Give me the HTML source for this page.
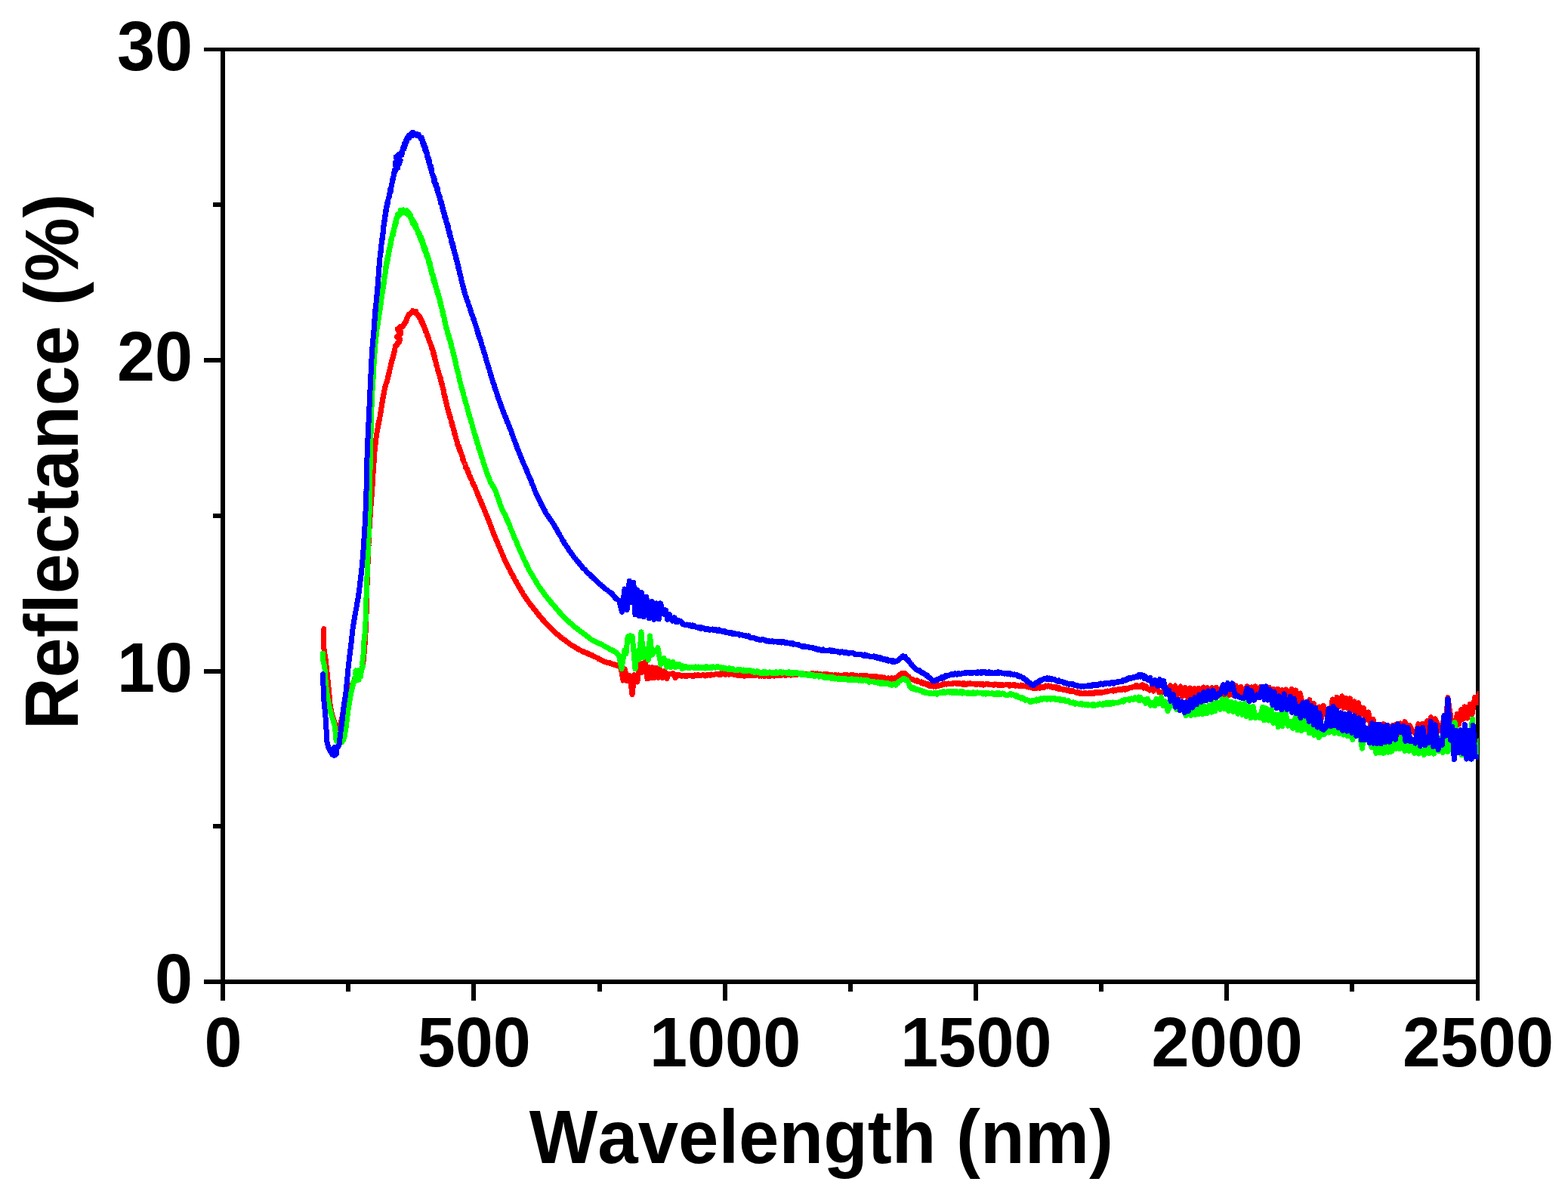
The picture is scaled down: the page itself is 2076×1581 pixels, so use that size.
<!DOCTYPE html>
<html><head><meta charset="utf-8"><title>Reflectance vs Wavelength</title>
<style>html,body{margin:0;padding:0;background:#fff;overflow:hidden}svg{display:block}</style>
</head><body>
<svg width="2076" height="1581" viewBox="0 0 2076 1581"><rect x="0" y="0" width="2076" height="1581" fill="#fff"/><g shape-rendering="crispEdges"><rect x="292" y="63" width="6" height="1262" fill="#000"/><rect x="1954" y="63" width="5" height="1262" fill="#000"/><rect x="270" y="63" width="1689" height="5" fill="#000"/><rect x="270" y="1297" width="1689" height="6" fill="#000"/><rect x="270" y="885.5" width="25" height="6" fill="#000"/><rect x="270" y="474.0" width="25" height="6" fill="#000"/><rect x="282" y="1091.2" width="13" height="6" fill="#000"/><rect x="282" y="679.8" width="13" height="6" fill="#000"/><rect x="282" y="268.2" width="13" height="6" fill="#000"/><rect x="624.3" y="1300" width="6" height="25" fill="#000"/><rect x="956.6" y="1300" width="6" height="25" fill="#000"/><rect x="1288.9" y="1300" width="6" height="25" fill="#000"/><rect x="1621.2" y="1300" width="6" height="25" fill="#000"/><rect x="458.1" y="1300" width="6" height="13" fill="#000"/><rect x="790.5" y="1300" width="6" height="13" fill="#000"/><rect x="1122.8" y="1300" width="6" height="13" fill="#000"/><rect x="1455.0" y="1300" width="6" height="13" fill="#000"/><rect x="1787.3" y="1300" width="6" height="13" fill="#000"/></g><defs><clipPath id="pc"><rect x="298" y="68" width="1659.7" height="1229"/></clipPath></defs><g clip-path="url(#pc)" fill="none" stroke-width="7" stroke-linejoin="round" stroke-linecap="round" shape-rendering="crispEdges"><polyline stroke="#ff0000" points="428.8,832.7 428.7,833.4 428.7,834.5 428.7,834.9 428.7,835.9 428.7,837.1 428.7,837.9 428.7,839.4 428.6,840.7 428.6,842.0 428.6,842.5 428.6,843.8 428.6,844.6 428.6,846.3 428.6,847.3 428.6,847.7 428.5,849.6 428.5,850.6 428.5,851.3 428.5,852.2 428.5,852.8 428.5,853.6 428.5,855.1 428.6,855.6 428.7,856.7 428.8,857.8 428.9,858.6 429.1,860.0 429.2,861.0 429.4,862.4 429.5,863.0 429.7,864.2 429.8,865.0 430.0,866.2 430.1,866.9 430.3,867.6 430.4,869.2 430.6,870.0 430.7,870.8 430.9,871.6 431.0,872.2 431.2,873.2 431.3,874.4 431.5,875.6 431.6,877.0 431.7,877.5 431.8,878.8 431.9,879.3 432.0,880.8 432.1,881.7 432.2,881.9 432.3,883.2 432.4,884.9 432.5,885.6 432.7,887.1 432.8,887.7 432.9,888.4 433.0,890.0 433.1,891.2 433.2,891.8 433.3,892.6 433.4,893.9 433.5,895.4 433.6,896.3 433.7,896.8 433.8,898.0 433.9,898.9 434.0,899.9 434.2,901.7 434.3,902.2 434.4,903.6 434.5,904.5 434.6,905.3 434.7,906.8 434.8,907.2 434.9,908.7 434.9,909.1 435.0,910.3 435.1,910.9 435.2,911.8 435.3,913.7 435.4,914.7 435.5,915.2 435.6,916.6 435.7,916.9 435.8,917.9 435.9,919.2 436.0,919.9 436.1,920.5 436.2,922.5 436.3,922.6 436.4,923.6 436.4,925.1 436.5,925.7 436.6,926.7 436.7,927.5 436.7,928.6 436.8,930.2 436.9,931.0 437.0,932.4 437.1,933.3 437.3,934.5 437.4,936.1 437.6,936.7 437.8,937.8 438.0,939.1 438.2,939.5 438.4,940.6 438.7,942.4 438.9,943.4 439.2,944.0 439.5,945.0 439.7,946.6 440.0,947.8 440.3,948.1 440.6,949.8 440.8,950.7 441.1,951.3 441.3,951.9 441.7,953.0 442.2,954.1 442.6,956.1 443.0,956.4 443.4,957.7 443.8,958.1 444.1,959.5 444.5,960.1 445.0,961.1 445.5,962.3 446.0,964.0 446.5,964.2 447.0,964.7 447.6,964.9 448.2,964.7 448.8,963.6 449.4,962.1 450.0,961.4 450.3,960.0 450.5,959.0 450.8,958.4 451.0,957.6 451.2,956.3 451.5,955.3 451.7,954.4 452.0,953.5 452.2,951.9 452.5,950.9 452.7,950.5 452.9,949.7 453.1,948.5 453.3,947.5 453.5,946.4 453.7,945.0 453.9,943.8 454.1,942.8 454.3,942.6 454.5,941.3 454.7,940.5 454.9,938.5 455.1,938.1 455.3,937.0 455.5,936.2 455.7,934.8 455.9,934.4 456.1,932.4 456.4,931.8 456.6,930.9 456.8,930.0 457.0,928.7 457.2,927.7 457.4,926.7 457.6,925.9 457.9,924.4 458.1,923.8 458.3,923.2 458.5,922.4 458.9,920.5 459.4,919.7 459.8,918.8 460.2,917.6 460.6,916.8 461.1,915.7 461.5,915.1 462.1,914.0 462.7,912.4 463.4,912.0 464.0,911.4 464.5,910.4 465.1,909.2 465.5,907.9 466.0,907.3 466.5,906.1 467.0,905.0 467.4,904.4 467.9,902.7 468.4,902.3 469.0,900.5 469.5,900.2 470.1,899.2 470.7,898.0 471.3,897.5 471.9,896.4 472.5,895.6 473.1,895.0 473.8,893.4 474.5,892.3 475.2,891.7 475.9,891.1 476.5,889.7 477.1,888.7 477.6,888.5 478.2,887.3 478.7,886.0 479.1,885.5 479.5,883.8 479.8,883.2 480.0,881.8 480.2,881.0 480.4,880.4 480.5,879.5 480.7,878.4 480.8,876.9 480.9,876.1 481.1,874.9 481.2,873.7 481.3,873.2 481.4,872.6 481.5,871.6 481.6,870.2 481.7,869.7 481.8,868.0 481.9,867.0 482.0,866.4 482.1,865.2 482.2,864.1 482.3,863.4 482.4,862.5 482.5,861.2 482.6,859.8 482.7,859.6 482.7,858.9 482.8,857.3 482.9,855.8 482.9,854.8 483.0,854.9 483.1,852.7 483.1,852.6 483.2,851.3 483.3,849.9 483.3,849.5 483.4,847.4 483.5,846.5 483.5,845.9 483.6,844.3 483.7,844.5 483.7,842.7 483.8,841.5 483.8,840.4 483.9,840.3 483.9,839.1 484.0,838.4 484.1,837.4 484.1,836.7 484.2,835.9 484.2,834.5 484.3,832.8 484.3,832.1 484.4,830.6 484.4,829.3 484.4,829.0 484.5,828.5 484.5,826.7 484.5,825.9 484.6,825.1 484.6,824.7 484.7,823.4 484.7,822.6 484.7,821.8 484.8,820.3 484.8,819.9 484.8,819.0 484.8,816.7 484.9,817.0 484.9,815.6 484.9,813.6 485.0,813.0 485.0,812.2 485.0,811.7 485.0,810.0 485.1,809.4 485.1,808.9 485.1,807.9 485.1,807.2 485.1,805.5 485.2,804.9 485.2,803.2 485.2,803.1 485.2,802.3 485.2,801.0 485.3,800.1 485.3,798.3 485.3,798.4 485.3,797.4 485.4,796.4 485.4,794.6 485.4,793.9 485.4,792.0 485.5,791.8 485.5,790.6 485.5,788.9 485.6,787.6 485.6,787.2 485.6,786.5 485.6,785.9 485.7,784.4 485.7,782.7 485.7,783.0 485.8,780.8 485.8,781.0 485.8,778.9 485.9,778.2 485.9,777.9 485.9,775.8 486.0,774.7 486.0,774.3 486.0,773.6 486.1,772.7 486.1,771.4 486.1,770.8 486.2,769.0 486.2,768.7 486.3,766.3 486.3,765.5 486.3,765.0 486.4,763.6 486.4,763.3 486.4,762.2 486.5,761.0 486.5,760.6 486.5,759.1 486.6,757.6 486.6,756.7 486.6,756.5 486.7,755.6 486.7,753.4 486.7,753.5 486.8,752.8 486.8,751.0 486.8,750.2 486.9,748.6 486.9,748.2 487.0,747.2 487.0,746.4 487.0,744.4 487.1,745.1 487.1,743.3 487.1,742.2 487.2,741.9 487.2,740.5 487.2,739.3 487.3,738.7 487.3,736.5 487.4,736.3 487.4,735.0 487.5,734.9 487.5,733.8 487.5,731.7 487.6,731.1 487.6,729.5 487.7,729.1 487.7,728.9 487.7,728.0 487.8,726.3 487.8,725.0 487.9,723.7 487.9,723.5 488.0,723.1 488.0,720.5 488.0,720.7 488.1,718.3 488.1,717.5 488.2,716.6 488.2,716.4 488.3,714.7 488.3,713.7 488.4,713.2 488.4,711.1 488.5,711.3 488.5,709.1 488.6,708.8 488.6,707.3 488.7,706.2 488.7,705.8 488.8,704.7 488.8,703.6 488.9,702.7 488.9,701.9 489.0,700.3 489.0,699.4 489.1,699.2 489.1,698.1 489.2,696.8 489.2,696.4 489.3,694.8 489.4,694.2 489.4,691.9 489.5,691.9 489.6,691.0 489.6,690.1 489.7,687.9 489.8,686.8 489.8,687.1 489.9,684.6 490.0,685.2 490.0,684.0 490.1,681.4 490.2,680.7 490.2,680.7 490.3,678.8 490.4,677.5 490.4,678.1 490.5,676.3 490.5,676.2 490.6,673.8 490.7,673.5 490.7,673.3 490.8,670.9 490.9,670.2 491.0,670.1 491.1,669.5 491.2,668.5 491.2,665.6 491.3,665.4 491.4,665.0 491.5,663.4 491.6,662.8 491.7,660.7 491.8,659.5 491.9,658.6 492.0,657.5 492.0,657.8 492.1,656.8 492.2,656.0 492.3,654.0 492.4,653.2 492.4,652.3 492.5,652.8 492.6,652.2 492.6,651.0 492.7,648.1 492.8,647.1 492.8,648.4 492.9,646.3 492.9,646.2 492.9,644.2 493.0,643.7 493.0,642.9 493.1,641.8 493.1,641.2 493.2,638.8 493.2,639.5 493.3,638.7 493.4,636.0 493.4,635.5 493.5,634.9 493.6,632.8 493.7,631.4 493.7,630.5 493.8,630.5 493.8,628.3 493.9,629.6 493.9,628.4 494.0,627.2 494.1,626.5 494.1,624.9 494.2,623.3 494.3,622.7 494.3,621.4 494.4,621.5 494.5,619.9 494.5,617.4 494.6,618.0 494.7,616.4 494.8,615.4 494.8,614.4 494.9,612.2 495.0,612.4 495.1,611.3 495.1,609.8 495.2,608.9 495.3,607.9 495.3,605.9 495.4,605.8 495.5,603.1 495.5,602.9 495.6,602.4 495.7,600.3 495.7,600.4 495.8,600.4 495.9,598.8 496.0,596.4 496.2,597.1 496.3,595.1 496.4,593.1 496.5,593.0 496.6,591.8 496.7,590.7 496.8,589.4 496.9,590.3 497.0,588.4 497.1,587.7 497.2,587.0 497.3,586.7 497.5,582.9 497.6,583.6 497.7,583.0 497.9,580.5 498.0,579.9 498.1,577.8 498.3,577.2 498.4,576.7 498.6,574.8 498.7,574.2 498.8,575.2 499.0,573.1 499.2,571.9 499.3,572.3 499.5,570.0 499.6,570.3 499.8,568.2 500.0,567.7 500.2,564.4 500.4,565.1 500.6,564.6 500.7,561.3 501.0,563.2 501.2,559.7 501.4,559.7 501.6,557.8 501.8,557.9 502.0,557.2 502.2,554.5 502.4,556.3 502.6,553.7 502.8,553.0 503.0,552.3 503.2,550.6 503.4,549.3 503.6,549.5 503.8,548.1 503.9,546.2 504.1,546.5 504.3,544.1 504.4,542.2 504.6,541.9 504.7,540.2 504.9,539.5 505.0,540.4 505.2,538.2 505.3,538.7 505.5,537.2 505.7,533.9 505.8,535.9 506.0,534.7 506.2,530.9 506.3,532.5 506.5,530.0 506.7,529.1 506.9,529.6 507.0,526.3 507.2,526.1 507.4,526.4 507.6,524.7 507.7,522.8 507.9,523.4 508.1,521.9 508.3,520.1 508.6,517.5 508.8,518.1 509.0,516.6 509.2,514.8 509.5,513.3 509.7,513.8 510.0,511.6 510.2,511.6 510.5,511.4 510.8,509.7 511.0,508.1 511.3,508.1 511.6,506.6 511.9,506.8 512.2,505.0 512.4,505.5 512.7,504.4 513.0,502.7 513.2,500.1 513.5,498.8 513.7,500.3 514.0,498.9 514.2,497.5 514.5,495.6 514.7,494.4 514.9,494.7 515.2,493.3 515.4,492.4 515.6,491.6 515.8,491.0 516.1,488.2 516.3,487.4 516.5,488.8 516.8,487.6 517.0,486.5 517.3,482.8 517.5,481.9 517.8,481.6 518.0,481.1 518.3,480.7 518.6,477.9 518.9,478.3 519.2,475.7 519.4,474.7 519.7,475.6 520.0,474.1 520.3,473.4 520.6,471.6 520.8,470.9 521.1,469.1 521.3,468.7 521.6,469.1 521.8,468.6 522.0,465.3 522.3,464.0 522.6,464.9 522.8,463.2 522.9,462.7 523.1,459.9 523.3,459.7 523.6,458.2 524.0,459.0 524.5,456.6 525.2,456.6 525.9,456.7 526.7,453.6 527.5,453.4 528.2,453.1 528.8,452.8 529.3,450.5 529.5,449.6 529.2,447.7 528.1,449.3 526.9,446.1 525.8,445.4 525.5,446.2 525.9,445.3 526.7,445.4 527.7,443.5 528.8,444.4 529.9,441.5 530.7,441.3 531.0,442.0 530.7,439.4 529.9,439.2 528.8,439.7 527.6,438.8 526.8,436.6 526.5,435.4 526.8,435.4 527.4,435.9 528.2,434.1 529.2,432.7 530.2,434.0 531.2,432.9 532.0,433.3 532.8,432.6 533.6,431.8 534.4,429.5 535.1,429.8 535.8,427.4 536.5,426.4 537.0,425.8 537.4,426.6 537.9,425.5 538.3,422.5 538.7,421.8 539.1,420.9 539.5,419.9 540.0,419.2 540.6,418.1 541.3,416.4 542.0,416.6 542.7,416.4 543.4,414.8 544.0,415.1 545.2,413.3 546.3,411.6 547.5,413.3 548.5,413.9 549.4,412.3 550.5,412.1 551.5,414.6 552.1,415.3 552.7,416.1 553.3,418.2 554.0,418.1 554.6,419.6 555.3,418.3 556.0,421.1 556.4,422.7 556.8,421.2 557.2,422.0 557.6,425.0 558.1,426.4 558.5,424.7 558.9,427.4 559.4,426.8 559.8,429.8 560.3,430.5 560.8,430.3 561.2,431.3 561.7,434.1 562.1,434.2 562.4,435.9 562.8,435.6 563.2,436.4 563.6,439.4 564.0,439.4 564.4,439.8 564.8,441.0 565.2,442.6 565.6,443.6 566.0,445.3 566.4,444.7 566.8,447.0 567.2,447.5 567.6,449.1 567.9,450.0 568.3,451.1 568.7,452.2 569.0,453.4 569.3,453.4 569.7,454.0 570.0,455.6 570.3,456.9 570.7,456.6 571.0,457.6 571.3,457.7 571.6,460.6 571.9,462.4 572.2,461.4 572.5,461.7 572.8,462.8 573.1,464.5 573.4,465.1 573.7,468.2 574.0,466.3 574.2,468.0 574.5,468.4 574.7,471.1 575.0,472.5 575.2,471.5 575.4,472.1 575.7,474.4 575.9,475.8 576.1,477.8 576.3,476.0 576.6,477.2 576.8,478.4 577.0,479.5 577.3,480.5 577.5,483.0 577.8,483.6 578.1,483.4 578.4,484.3 578.6,485.5 578.9,486.2 579.2,489.0 579.5,488.6 579.8,490.3 580.1,492.2 580.4,492.1 580.8,492.4 581.1,495.3 581.4,496.4 581.7,495.6 582.0,497.2 582.2,499.5 582.5,499.0 582.8,499.1 583.1,499.5 583.3,503.4 583.6,503.9 583.9,503.6 584.1,505.0 584.4,505.9 584.6,506.2 584.9,509.4 585.1,509.4 585.3,509.0 585.6,509.2 585.8,511.7 586.1,512.4 586.3,514.7 586.5,515.4 586.8,516.1 587.0,515.6 587.2,516.6 587.5,518.1 587.7,518.9 587.9,521.8 588.1,521.6 588.3,523.0 588.6,525.1 588.8,523.8 589.0,525.6 589.2,525.3 589.4,528.3 589.6,526.8 589.9,530.4 590.1,531.5 590.3,532.4 590.6,531.0 590.8,532.6 591.0,535.0 591.3,534.0 591.5,536.2 591.8,537.1 592.1,539.7 592.3,539.5 592.6,541.3 592.9,540.5 593.1,543.1 593.4,542.9 593.7,545.4 593.9,543.8 594.2,547.1 594.5,546.1 594.8,548.2 595.0,549.1 595.3,548.9 595.6,552.0 595.8,551.4 596.1,552.3 596.4,552.6 596.7,554.3 597.0,555.8 597.2,557.6 597.5,557.4 597.8,559.4 598.1,558.6 598.3,560.5 598.6,561.7 598.9,564.3 599.2,564.8 599.5,565.2 599.7,564.2 600.0,566.3 600.3,568.3 600.5,567.8 600.8,569.8 601.0,570.5 601.3,570.0 601.6,574.1 601.8,574.5 602.1,573.6 602.3,575.8 602.6,575.8 602.8,577.1 603.1,578.5 603.4,578.8 603.6,579.9 603.9,581.0 604.2,582.8 604.5,582.6 604.8,583.4 605.1,586.0 605.4,585.7 605.8,588.5 606.1,588.4 606.4,589.8 606.8,589.7 607.1,592.1 607.5,591.0 607.8,592.1 608.2,592.9 608.5,595.6 608.9,596.7 609.3,596.1 609.6,597.8 610.0,600.0 610.3,600.3 610.6,599.8 611.0,601.2 611.3,602.0 611.7,602.9 612.0,604.7 612.3,604.7 612.7,608.0 613.0,607.7 613.3,608.9 613.7,610.2 614.0,611.5 614.4,612.6 614.7,612.5 615.1,613.3 615.5,614.5 615.8,614.5 616.2,616.4 616.6,618.1 616.9,619.8 617.3,620.2 617.7,620.8 618.1,621.6 618.5,621.1 618.9,622.7 619.3,623.7 619.7,625.4 620.1,625.0 620.5,626.6 620.9,627.8 621.3,629.4 621.7,630.4 622.1,630.8 622.5,630.7 622.9,633.0 623.3,634.2 623.7,634.3 624.1,634.7 624.5,635.9 624.8,635.9 625.2,637.9 625.5,639.3 625.9,639.1 626.3,640.3 626.6,641.3 627.0,640.8 627.4,643.2 627.8,643.5 628.3,643.5 628.7,644.3 629.2,645.7 629.7,647.6 630.2,649.1 630.8,649.7 631.1,651.5 631.4,651.2 631.7,652.1 632.1,652.2 632.4,654.7 632.7,653.9 633.1,656.2 633.4,656.4 633.8,657.3 634.2,658.2 634.5,658.5 634.9,660.6 635.3,661.7 635.7,662.3 636.1,662.9 636.5,663.0 636.9,665.2 637.3,665.2 637.7,667.3 638.1,667.1 638.5,668.7 638.9,670.1 639.3,670.1 639.7,671.7 640.1,671.9 640.6,672.8 641.0,674.1 641.4,676.3 641.8,677.2 642.2,677.8 642.6,678.2 643.0,679.8 643.4,680.8 643.7,681.3 644.1,682.5 644.5,683.7 644.9,683.6 645.3,684.8 645.6,686.1 646.0,686.6 646.4,687.9 646.8,689.1 647.2,689.5 647.5,691.0 647.9,691.6 648.3,692.9 648.7,693.6 649.0,694.9 649.4,695.1 649.8,696.9 650.2,697.2 650.5,699.1 650.9,699.6 651.3,700.4 651.6,701.3 652.0,702.5 652.4,703.6 652.8,704.6 653.2,705.6 653.5,706.2 653.9,707.7 654.3,708.5 654.7,709.5 655.1,709.9 655.4,710.9 655.8,712.0 656.2,713.4 656.6,713.9 657.0,714.8 657.4,715.7 657.8,717.2 658.2,717.4 658.6,718.0 659.0,719.7 659.4,720.9 659.7,721.6 660.1,722.4 660.5,723.5 660.9,723.9 661.3,725.1 661.7,725.5 662.1,726.4 662.5,727.7 662.9,728.7 663.2,729.5 663.6,730.1 664.0,731.7 664.4,732.5 664.8,733.1 665.2,734.1 665.6,735.1 666.0,735.8 666.5,736.6 666.9,738.5 667.3,739.4 667.7,740.0 668.1,741.2 668.5,741.6 669.0,743.0 669.4,743.2 669.8,744.7 670.3,745.5 670.7,746.8 671.1,746.8 671.6,748.5 672.0,748.6 672.5,750.0 673.0,751.4 673.4,751.3 673.9,752.5 674.4,753.5 674.9,754.4 675.4,755.1 675.9,757.0 676.4,757.9 676.9,758.4 677.4,759.3 677.9,760.6 678.5,760.9 679.0,761.9 679.5,763.9 680.1,764.2 680.6,765.4 681.1,766.8 681.7,767.8 682.2,768.2 682.7,768.9 683.3,769.9 683.8,771.6 684.3,772.5 684.8,772.6 685.3,774.2 685.8,774.6 686.3,775.6 686.8,776.1 687.3,777.7 687.8,778.7 688.3,778.6 688.7,779.9 689.2,780.1 689.6,781.6 690.0,781.4 690.4,782.2 690.8,783.5 691.6,784.4 692.3,786.2 692.9,787.2 693.5,788.0 694.1,788.3 694.6,789.7 695.1,790.8 695.6,791.0 696.1,791.3 696.5,792.1 697.0,792.9 697.5,794.0 698.0,794.1 698.5,794.8 699.1,795.6 699.7,796.9 700.3,797.9 701.0,798.4 701.5,799.4 702.1,800.3 702.6,800.8 703.2,801.1 703.8,802.0 704.4,803.4 705.0,803.9 705.6,804.3 706.2,805.5 706.8,805.8 707.5,807.5 708.1,807.8 708.8,808.7 709.4,809.5 710.1,809.9 710.8,811.3 711.4,811.8 712.1,812.5 712.7,813.9 713.4,814.0 714.1,815.0 714.7,816.3 715.4,816.5 716.1,817.3 716.7,818.3 717.4,818.8 718.1,820.3 718.7,821.1 719.4,820.9 720.1,822.1 720.8,823.2 721.5,823.6 722.2,824.9 722.9,825.2 723.5,825.6 724.2,826.7 724.9,827.6 725.6,828.0 726.3,829.0 727.0,829.9 727.7,830.3 728.4,831.0 729.1,832.1 729.8,832.6 730.5,833.1 731.2,834.2 731.9,834.2 732.6,835.4 733.3,835.5 734.1,836.6 734.9,837.0 735.7,837.9 736.5,838.9 737.3,839.7 738.1,840.4 738.9,840.5 739.7,841.4 740.5,841.8 741.2,842.8 742.0,843.4 742.8,843.6 743.6,844.8 744.4,845.5 745.2,846.0 746.0,846.9 746.8,846.8 747.6,847.4 748.4,847.9 749.2,848.9 750.0,849.4 750.9,850.1 751.8,850.6 752.6,851.7 753.5,851.6 754.4,853.0 755.3,853.3 756.2,853.9 757.0,854.7 757.9,854.8 758.8,855.3 759.7,856.0 760.6,856.3 761.4,857.1 762.3,857.9 763.2,858.3 764.1,858.6 764.9,859.4 765.8,859.5 766.7,860.6 767.6,860.5 768.5,861.0 769.5,861.4 770.4,862.3 771.3,862.8 772.2,863.2 773.2,862.9 774.1,863.6 775.0,863.9 775.9,864.2 776.8,865.2 777.8,864.8 778.7,865.5 779.6,866.1 780.5,866.7 781.5,866.4 782.4,867.0 783.3,867.7 784.2,867.6 785.2,868.2 786.1,869.2 787.0,869.0 787.9,869.7 788.9,870.1 789.8,870.7 790.7,871.0 791.6,871.4 792.6,872.7 793.5,873.0 794.4,873.4 795.4,873.5 796.3,874.0 797.2,874.6 798.1,874.8 799.1,875.4 800.0,876.1 801.0,876.1 802.0,876.4 803.1,877.4 804.2,877.4 805.3,877.1 806.4,877.8 807.5,878.4 808.6,878.0 809.7,878.6 810.7,879.3 811.7,879.8 812.7,879.7 813.6,880.4 814.5,880.0 815.3,880.2 816.0,881.1 816.7,880.6 818.4,881.8 819.3,881.4 819.9,881.9 820.4,882.1 821.0,883.6 821.5,883.2 821.8,884.2 822.1,885.2 822.5,887.2 825.0,901.0 827.4,885.9 830.5,901.8 833.8,894.5 837.0,919.6 840.0,893.7 843.9,903.0 846.9,876.9 850.0,890.3 853.9,876.3 857.1,899.0 860.2,883.7 862.1,898.0 864.0,883.7 866.1,897.8 869.0,884.1 871.8,897.2 873.9,886.0 876.8,897.6 879.9,888.7 883.1,898.4 885.2,892.1 888.2,892.3 891.2,891.5 894.0,897.5 894.9,893.9 895.8,896.0 896.7,893.4 897.7,895.0 898.8,894.9 900.0,894.0 900.9,895.0 901.8,894.8 902.7,895.3 903.7,894.7 904.7,894.4 905.8,895.0 906.8,895.2 907.9,894.5 909.0,895.5 910.2,894.7 911.3,894.3 912.4,894.8 913.5,894.9 914.6,894.4 915.6,895.2 916.7,895.4 917.7,895.1 918.8,895.3 919.8,893.9 920.9,894.6 921.9,894.5 922.9,893.9 924.0,894.5 925.0,893.8 926.0,894.6 927.1,894.8 928.1,894.5 929.1,894.1 930.2,893.9 931.2,893.4 932.3,894.0 933.3,895.0 934.3,894.2 935.4,893.5 936.4,894.2 937.5,893.2 938.5,893.6 939.6,893.8 940.6,894.3 941.6,893.0 942.7,893.3 943.7,893.9 944.8,893.5 945.8,893.1 946.9,892.9 947.9,892.4 949.0,892.4 950.0,892.1 951.0,893.1 952.1,893.2 953.1,892.2 954.2,893.2 955.2,891.5 956.3,891.7 957.3,892.4 958.4,892.1 959.4,892.2 960.4,893.5 961.5,891.9 962.5,892.0 963.6,892.1 964.6,893.1 965.7,892.2 966.7,891.8 967.7,892.9 968.8,892.7 969.8,892.5 970.9,893.1 971.9,893.5 972.9,893.4 974.0,893.6 975.0,893.6 976.0,894.3 977.1,894.6 978.1,893.5 979.1,893.6 980.2,894.8 981.2,893.7 982.3,894.6 983.3,894.6 984.3,894.6 985.4,895.2 986.4,895.0 987.5,893.7 988.5,894.6 989.6,894.4 990.6,894.5 991.6,894.2 992.7,894.0 993.7,894.9 994.8,894.5 995.8,893.9 996.9,894.0 997.9,894.1 999.0,893.8 1000.0,894.5 1001.0,893.8 1002.1,893.7 1003.1,893.7 1004.2,893.8 1005.2,895.0 1006.3,893.8 1007.3,894.5 1008.4,895.2 1009.4,894.6 1010.5,894.0 1011.5,895.4 1012.6,895.5 1013.6,893.8 1014.6,894.2 1015.7,894.7 1016.7,895.3 1017.7,894.5 1018.8,895.1 1019.8,894.1 1020.8,895.0 1021.8,894.2 1022.8,894.2 1023.8,895.0 1024.8,895.1 1025.8,895.0 1026.9,894.5 1027.9,894.1 1028.9,894.6 1029.9,894.4 1030.9,894.8 1032.0,894.7 1033.0,893.3 1034.0,893.7 1034.9,894.2 1035.9,893.3 1036.8,893.1 1037.8,892.7 1038.7,893.8 1039.6,894.5 1040.6,894.5 1041.5,892.7 1042.5,893.8 1043.5,893.2 1044.5,893.5 1045.6,893.0 1046.6,894.0 1047.7,894.1 1048.8,892.1 1050.0,893.4 1050.9,892.2 1051.8,892.0 1052.7,892.5 1053.6,893.3 1054.5,893.8 1055.4,892.0 1056.3,892.4 1057.2,891.8 1058.2,892.8 1059.2,892.6 1060.1,892.3 1061.1,892.2 1062.1,893.1 1063.2,893.2 1064.2,892.1 1065.3,892.3 1066.3,892.7 1067.4,893.0 1068.6,893.4 1069.7,892.2 1070.9,892.9 1072.1,892.6 1073.3,893.1 1074.2,891.8 1075.1,891.9 1076.0,891.8 1076.9,893.5 1077.8,892.1 1078.8,892.7 1079.7,892.0 1080.7,892.4 1081.7,891.9 1082.7,893.0 1083.7,892.2 1084.7,893.2 1085.7,892.6 1086.8,892.6 1087.8,893.1 1088.9,893.0 1089.9,892.8 1091.0,892.5 1092.0,892.6 1093.1,894.3 1094.1,893.2 1095.2,892.8 1096.3,893.0 1097.3,893.7 1098.4,894.8 1099.4,893.3 1100.5,894.7 1101.5,893.9 1102.6,893.9 1103.6,894.7 1104.7,893.9 1105.7,893.3 1106.7,894.3 1107.7,894.6 1108.7,894.5 1109.8,893.9 1110.8,895.2 1111.9,895.1 1112.9,895.4 1114.0,894.3 1115.1,895.1 1116.1,894.9 1117.2,893.8 1118.3,893.6 1119.4,893.9 1120.5,893.8 1121.5,893.7 1122.6,894.3 1123.7,895.1 1124.7,894.2 1125.8,894.7 1126.8,893.7 1127.8,894.1 1128.9,895.6 1129.9,893.7 1130.9,894.8 1131.9,895.4 1132.9,895.4 1133.8,895.3 1134.8,894.6 1135.7,895.5 1136.6,895.5 1137.5,895.4 1138.3,895.9 1139.2,894.2 1140.0,895.9 1141.3,894.9 1142.6,895.5 1143.8,894.7 1144.9,896.1 1146.1,894.4 1147.1,895.5 1148.2,894.9 1149.2,895.3 1150.2,895.3 1151.1,896.0 1152.1,896.4 1153.0,895.6 1153.9,896.2 1154.8,895.7 1155.7,895.6 1156.5,897.0 1157.4,895.9 1158.3,895.5 1159.1,896.1 1160.0,897.0 1161.2,896.0 1162.3,897.2 1163.4,897.0 1164.5,897.4 1165.5,896.6 1166.6,896.6 1167.6,896.8 1168.6,897.4 1169.5,897.7 1170.5,897.0 1171.4,898.1 1172.3,898.1 1173.2,898.0 1174.1,898.5 1175.0,899.4 1176.2,898.0 1177.3,899.4 1178.5,898.3 1179.5,899.2 1180.6,897.9 1181.6,899.6 1182.6,898.4 1183.5,899.4 1184.4,897.8 1185.2,898.0 1186.0,898.4 1187.2,896.9 1188.1,896.4 1188.8,896.5 1189.5,896.2 1190.2,894.3 1191.0,893.4 1191.9,893.2 1192.9,893.8 1193.9,891.6 1194.9,892.2 1195.8,891.4 1196.7,891.8 1197.8,891.1 1198.8,892.5 1199.9,893.8 1201.0,894.7 1201.6,894.9 1202.2,895.3 1202.8,896.2 1203.4,896.1 1204.2,898.3 1205.3,898.8 1206.7,899.1 1207.4,899.8 1208.2,899.7 1209.0,899.9 1209.9,899.9 1210.9,901.0 1211.9,901.3 1212.9,901.5 1214.0,900.8 1215.1,902.4 1216.1,902.3 1217.2,902.9 1218.3,903.2 1219.4,904.2 1220.4,903.0 1221.4,903.9 1222.4,905.2 1223.3,905.0 1224.4,904.5 1225.5,905.7 1226.5,906.6 1227.4,905.8 1228.4,907.1 1229.3,906.0 1230.3,908.1 1231.2,907.4 1232.2,907.1 1233.2,908.6 1234.3,908.4 1235.5,909.1 1236.7,909.0 1237.5,908.9 1238.4,908.3 1239.2,909.2 1240.1,907.2 1240.9,908.7 1241.8,908.2 1242.7,907.1 1243.6,908.0 1244.5,907.1 1245.5,907.1 1246.4,907.5 1247.4,906.0 1248.5,905.9 1249.5,906.4 1250.6,905.1 1251.7,905.9 1252.9,906.2 1254.1,905.5 1255.4,904.9 1256.7,905.9 1257.5,906.0 1258.4,905.8 1259.2,905.3 1260.1,906.0 1261.0,905.8 1261.9,904.5 1262.9,904.9 1263.8,904.4 1264.8,904.2 1265.8,904.9 1266.8,905.9 1267.8,905.9 1268.9,904.5 1269.9,904.6 1270.9,905.0 1272.0,906.0 1273.0,905.6 1274.1,906.2 1275.2,904.5 1276.3,906.4 1277.3,904.9 1278.4,905.7 1279.5,906.3 1280.6,906.0 1281.6,905.0 1282.7,905.9 1283.8,905.5 1284.8,904.7 1285.9,905.4 1286.9,905.4 1288.0,906.0 1289.0,905.3 1290.0,906.0 1291.0,906.2 1292.0,905.2 1293.0,905.1 1294.0,906.3 1295.0,905.8 1296.1,905.2 1297.1,905.2 1298.1,906.9 1299.1,906.2 1300.1,905.7 1301.1,905.4 1302.1,907.1 1303.1,906.5 1304.1,906.6 1305.1,905.9 1306.1,905.8 1307.1,906.0 1308.2,905.5 1309.2,906.5 1310.2,906.1 1311.2,906.9 1312.2,906.2 1313.2,906.3 1314.2,906.4 1315.2,907.3 1316.2,906.1 1317.2,906.9 1318.2,906.0 1319.3,906.7 1320.3,906.2 1321.3,907.4 1322.3,906.2 1323.3,907.4 1324.3,907.1 1325.4,906.7 1326.4,907.7 1327.5,906.6 1328.6,907.4 1329.7,907.1 1330.8,906.9 1331.9,906.1 1333.0,906.9 1334.2,906.7 1335.3,907.0 1336.4,908.1 1337.6,906.8 1338.7,907.7 1339.8,907.7 1340.9,906.9 1342.0,907.2 1343.1,906.7 1344.2,908.3 1345.2,907.1 1346.3,907.5 1347.3,907.4 1348.3,908.4 1349.3,908.5 1350.2,908.0 1351.2,908.0 1352.0,907.1 1352.9,908.8 1353.7,907.2 1354.5,907.8 1355.3,907.9 1356.0,908.7 1356.7,908.6 1358.6,908.2 1360.1,909.6 1361.3,910.0 1362.2,908.4 1363.0,910.0 1363.6,909.9 1364.2,910.0 1364.9,910.4 1365.7,910.3 1366.7,911.1 1367.6,911.1 1368.6,911.8 1369.6,911.8 1370.7,911.8 1371.8,910.5 1372.9,911.3 1374.0,910.9 1375.1,910.9 1376.2,911.4 1377.2,909.4 1378.2,910.1 1379.1,909.9 1380.0,910.3 1381.2,909.3 1382.0,910.5 1382.7,908.7 1383.4,908.7 1384.2,908.0 1385.2,908.3 1386.5,909.0 1388.3,907.9 1389.0,908.1 1389.7,909.2 1390.5,909.3 1391.4,909.7 1392.2,908.9 1393.1,910.2 1394.1,910.2 1395.1,910.6 1396.1,909.5 1397.1,910.4 1398.1,909.8 1399.2,911.7 1400.3,912.1 1401.4,912.3 1402.5,910.8 1403.6,911.7 1404.7,912.4 1405.8,912.6 1406.9,912.1 1408.0,913.7 1409.1,912.9 1410.2,913.6 1411.3,913.0 1412.3,914.1 1413.3,913.5 1414.3,913.6 1415.3,914.6 1416.3,914.4 1417.3,915.6 1418.3,914.7 1419.3,915.3 1420.3,914.7 1421.3,915.3 1422.3,916.0 1423.3,916.4 1424.3,916.4 1425.3,917.4 1426.3,916.1 1427.3,917.7 1428.3,916.5 1429.3,918.3 1430.3,917.6 1431.3,917.5 1432.3,918.0 1433.3,918.7 1434.3,919.0 1435.3,918.0 1436.3,917.2 1437.3,917.6 1438.3,918.9 1439.3,918.8 1440.3,918.8 1441.3,917.6 1442.3,918.3 1443.3,917.3 1444.3,917.4 1445.3,917.7 1446.3,918.9 1447.3,918.2 1448.3,918.5 1449.3,916.8 1450.3,917.4 1451.3,916.6 1452.3,916.8 1453.3,916.4 1454.3,917.9 1455.3,916.5 1456.3,916.7 1457.3,916.9 1458.3,917.2 1459.3,917.2 1460.3,916.3 1461.3,916.0 1462.3,916.7 1463.3,915.6 1464.3,915.3 1465.3,916.0 1466.3,915.0 1467.3,915.1 1468.4,915.1 1469.4,915.0 1470.4,914.7 1471.4,914.7 1472.4,914.6 1473.5,913.7 1474.5,915.1 1475.5,913.4 1476.5,914.2 1477.5,914.2 1478.5,913.7 1479.5,913.2 1480.5,912.8 1481.5,913.3 1482.5,913.0 1483.5,913.2 1484.5,912.5 1485.5,913.4 1486.4,912.8 1487.4,911.7 1488.3,912.3 1489.4,913.3 1490.4,911.1 1491.4,912.1 1492.5,912.6 1493.5,911.2 1494.5,911.4 1495.5,910.7 1496.5,910.3 1497.5,910.6 1498.5,910.3 1499.5,909.5 1500.4,909.7 1501.4,909.5 1502.4,909.8 1503.3,907.8 1504.3,907.7 1505.2,907.9 1506.2,907.8 1507.2,909.4 1508.1,908.1 1509.1,909.7 1510.0,907.9 1511.0,907.4 1512.1,909.2 1513.1,906.7 1514.2,911.1 1515.2,910.7 1516.2,908.3 1517.3,908.5 1518.3,911.6 1519.3,911.8 1522.3,914.1 1525.3,909.0 1527.2,915.1 1531.1,909.5 1534.6,916.8 1536.9,916.9 1540.2,916.8 1542.2,908.0 1545.9,916.5 1549.4,907.7 1552.3,917.8 1556.0,908.0 1558.5,920.6 1563.0,909.0 1565.4,922.2 1569.2,910.1 1572.3,923.3 1575.6,910.9 1578.9,923.5 1581.8,911.6 1584.6,923.0 1587.3,911.4 1590.2,923.1 1593.2,910.0 1596.4,922.7 1598.8,910.7 1601.7,923.8 1604.4,910.7 1607.3,923.8 1610.3,910.1 1614.4,921.3 1617.5,910.4 1620.7,921.9 1623.8,907.9 1627.0,920.5 1630.0,909.3 1633.0,920.5 1636.0,907.7 1639.0,921.1 1643.0,909.1 1647.0,921.2 1651.0,908.9 1654.0,921.6 1657.0,909.8 1659.0,922.5 1662.0,908.7 1665.2,923.1 1668.5,909.7 1671.9,923.1 1675.2,915.2 1677.3,924.1 1680.5,910.2 1683.4,924.6 1686.2,912.4 1688.6,924.5 1691.8,912.4 1695.3,917.0 1697.5,913.5 1700.9,927.9 1702.8,913.0 1706.8,925.5 1709.9,912.4 1712.9,925.8 1715.7,914.0 1718.5,929.2 1721.3,918.0 1725.0,933.9 1727.4,935.6 1730.6,938.1 1733.8,926.7 1736.0,943.0 1739.3,931.6 1742.8,947.6 1746.2,936.0 1749.7,951.1 1752.3,934.6 1754.9,946.0 1758.4,942.7 1761.8,941.2 1764.3,926.0 1766.8,937.2 1770.0,923.1 1773.6,935.6 1776.7,921.9 1778.9,937.5 1782.2,924.3 1784.4,937.8 1787.5,924.8 1790.2,941.0 1793.1,928.9 1795.9,945.5 1798.6,930.8 1801.1,947.0 1805.1,937.1 1808.4,953.1 1811.8,943.0 1814.8,961.6 1818.1,952.2 1821.0,972.2 1824.0,962.1 1828.1,971.7 1831.9,958.6 1835.3,971.2 1838.4,961.1 1842.5,976.1 1844.7,960.4 1846.9,973.2 1849.0,958.9 1851.1,973.0 1854.2,957.8 1858.0,970.6 1860.0,955.6 1863.1,968.1 1866.2,960.2 1870.0,968.3 1872.8,970.6 1875.2,971.3 1877.9,958.7 1880.8,972.0 1883.8,958.1 1886.4,970.6 1889.7,954.8 1892.2,965.6 1894.6,949.6 1897.8,957.9 1900.2,951.8 1903.0,957.3 1905.4,967.5 1909.0,966.8 1911.7,949.8 1914.8,950.7 1916.9,923.8 1921.0,951.4 1923.8,956.9 1926.6,962.7 1929.2,945.6 1931.7,959.1 1934.5,939.6 1937.0,952.5 1939.2,935.9 1942.6,951.0 1946.2,932.4 1948.9,946.0 1952.7,923.3 1955.6,930.8 1958.2,918.3"/><polyline stroke="#00ff00" points="427.5,865.2 427.5,865.0 427.5,865.7 427.6,867.6 427.6,867.9 427.6,869.0 427.7,870.7 427.7,871.6 427.8,873.3 427.9,873.8 428.0,875.4 428.2,875.9 428.4,877.1 428.6,878.3 428.8,878.9 429.1,880.1 429.3,880.9 429.5,881.4 429.8,883.7 429.8,884.2 429.9,884.8 430.0,885.6 430.1,887.1 430.1,887.9 430.2,889.2 430.3,890.1 430.3,891.4 430.4,892.1 430.5,893.3 430.6,894.4 430.6,895.2 430.7,897.0 430.8,897.5 430.9,899.1 431.0,900.4 431.1,901.1 431.2,901.6 431.3,903.2 431.4,904.1 431.5,904.6 431.6,905.5 431.7,907.1 431.8,907.6 431.9,909.6 432.0,910.2 432.2,911.3 432.3,912.3 432.4,913.5 432.5,914.8 432.6,915.2 432.7,916.3 432.9,917.4 433.0,918.1 433.1,919.2 433.2,920.0 433.4,921.2 433.5,922.6 433.7,923.5 433.9,924.2 434.1,926.0 434.2,926.4 434.4,927.4 434.6,928.3 434.8,929.7 434.9,930.6 435.1,931.1 435.3,932.0 435.5,932.6 435.7,934.4 435.9,934.8 436.2,936.2 436.4,937.0 436.6,938.0 436.8,939.0 437.1,939.9 437.3,940.7 437.6,942.2 437.8,943.4 438.1,944.2 438.3,944.7 438.6,946.3 438.9,946.7 439.3,948.1 439.6,949.6 440.0,950.7 440.3,951.2 440.6,952.5 440.9,953.2 441.2,954.1 441.5,955.1 441.8,956.6 442.1,957.4 442.4,958.1 442.6,959.3 442.8,960.2 443.0,960.8 443.2,962.2 443.4,963.3 443.5,964.1 443.7,965.4 443.8,965.5 443.8,967.0 443.9,968.2 444.0,969.0 444.1,969.8 444.1,971.3 444.2,971.9 444.3,972.9 444.3,973.8 444.4,975.8 444.5,976.2 444.5,976.9 444.6,977.9 444.8,978.8 445.2,980.5 445.6,980.8 446.2,981.7 446.8,982.1 447.8,983.1 448.9,983.2 450.0,983.3 451.0,983.5 452.0,983.3 453.0,982.3 453.5,980.9 454.0,980.5 454.5,980.0 455.0,978.0 455.5,976.7 455.7,976.2 455.9,975.3 456.1,974.8 456.3,973.8 456.5,972.5 456.7,971.3 456.9,970.2 457.1,969.1 457.3,967.8 457.5,967.3 457.6,965.7 457.8,965.4 458.0,964.2 458.1,962.6 458.2,962.0 458.4,961.1 458.5,959.6 458.6,959.0 458.8,957.5 458.9,957.2 459.0,955.5 459.1,955.1 459.3,954.4 459.4,953.3 459.5,951.7 459.6,951.0 459.8,949.6 459.9,948.8 460.0,948.3 460.1,947.2 460.2,945.5 460.3,944.8 460.5,944.1 460.6,942.7 460.7,942.3 460.9,941.4 461.0,940.1 461.1,938.9 461.3,938.3 461.5,937.0 461.6,935.7 461.8,934.7 462.0,933.6 462.1,933.3 462.3,931.9 462.5,931.1 462.7,930.3 462.8,929.4 463.0,927.7 463.2,926.9 463.4,926.3 463.6,925.1 463.7,923.7 463.9,922.9 464.1,921.4 464.3,920.4 464.5,919.3 464.6,918.7 464.8,917.6 465.0,917.0 465.2,916.3 465.5,914.4 465.7,913.8 465.9,913.1 466.1,911.9 466.4,910.9 466.6,910.2 466.8,908.5 467.0,908.3 467.2,907.0 467.3,906.0 467.4,904.9 467.7,903.2 468.0,902.3 468.5,901.7 469.4,901.4 470.7,901.4 472.2,901.2 473.5,900.5 474.5,900.5 475.0,900.2 474.5,899.3 473.2,899.3 471.6,898.6 470.4,897.8 470.0,897.4 470.5,897.0 471.4,896.6 472.7,896.0 474.2,895.8 475.6,895.5 476.8,895.1 477.7,895.7 478.0,894.8 477.7,894.2 476.9,894.1 475.6,893.5 474.2,893.5 472.9,893.0 471.6,892.4 470.8,892.3 470.5,891.9 470.9,891.5 471.8,891.6 473.0,890.8 474.5,890.7 476.0,890.7 477.2,890.5 478.1,889.6 478.5,889.0 478.1,889.7 477.0,889.2 475.5,888.8 473.9,888.6 472.4,888.6 471.4,888.5 471.0,888.1 471.3,887.9 472.1,888.6 473.3,888.3 474.6,887.4 476.1,887.5 477.4,887.5 478.5,886.7 479.3,885.6 479.7,885.1 479.9,884.3 480.0,883.9 480.1,882.6 480.0,881.4 480.0,880.4 479.9,878.7 479.9,878.2 479.9,877.3 479.9,876.2 480.0,874.9 480.1,873.9 480.2,872.7 480.4,871.9 480.5,871.1 480.6,870.5 480.8,869.8 480.9,868.0 481.0,867.0 481.1,866.4 481.1,865.5 481.1,863.9 481.2,864.1 481.2,862.7 481.3,861.3 481.3,860.2 481.3,859.8 481.4,859.0 481.4,857.2 481.5,856.2 481.5,855.3 481.5,853.7 481.6,853.0 481.7,852.6 481.7,851.1 481.8,850.4 481.9,848.6 482.0,848.4 482.1,847.3 482.2,845.4 482.3,844.8 482.5,844.0 482.6,842.8 482.7,841.8 482.8,840.2 483.0,839.6 483.1,838.3 483.2,838.0 483.3,836.2 483.4,836.2 483.5,834.5 483.6,832.8 483.7,832.1 483.7,830.6 483.8,830.6 483.8,828.3 483.8,828.3 483.9,826.7 483.9,826.5 483.9,824.3 483.9,824.3 484.0,823.3 484.0,821.4 484.0,820.2 484.0,819.6 484.0,819.1 484.1,817.3 484.1,815.8 484.1,815.5 484.2,815.2 484.2,812.9 484.2,813.4 484.3,811.5 484.3,809.8 484.4,808.6 484.4,808.1 484.4,807.3 484.5,805.6 484.5,804.4 484.6,804.2 484.6,802.6 484.6,802.0 484.7,800.9 484.7,800.4 484.7,799.1 484.8,797.5 484.8,796.5 484.8,796.9 484.8,794.4 484.9,793.7 484.9,792.7 484.9,793.3 484.9,791.8 485.0,791.6 485.0,790.0 485.0,788.3 485.1,787.3 485.1,786.7 485.1,784.2 485.2,783.9 485.2,782.3 485.3,780.8 485.3,780.6 485.3,780.2 485.4,778.4 485.4,779.1 485.4,778.2 485.5,776.4 485.5,776.3 485.5,774.8 485.6,773.5 485.6,771.7 485.7,772.4 485.7,771.3 485.7,769.2 485.8,768.0 485.8,766.2 485.9,766.3 485.9,765.8 486.0,763.6 486.0,762.3 486.0,762.0 486.1,761.3 486.1,758.8 486.2,757.9 486.2,757.7 486.3,755.2 486.3,755.9 486.3,753.7 486.4,753.9 486.4,751.9 486.5,750.2 486.5,748.9 486.5,748.1 486.6,747.4 486.6,747.6 486.7,746.7 486.7,745.3 486.7,743.5 486.8,743.4 486.8,742.6 486.9,740.7 486.9,739.0 486.9,738.9 487.0,737.3 487.0,736.3 487.1,735.8 487.1,734.0 487.1,735.1 487.2,732.5 487.2,733.1 487.3,731.7 487.3,728.8 487.3,730.1 487.4,728.8 487.4,727.1 487.5,727.0 487.5,725.0 487.5,722.8 487.6,722.1 487.6,721.4 487.6,721.8 487.7,720.7 487.7,717.8 487.8,717.4 487.8,715.7 487.8,715.0 487.9,714.3 487.9,713.5 487.9,711.8 488.0,712.1 488.0,710.0 488.0,710.7 488.1,708.6 488.1,707.4 488.2,707.3 488.2,705.1 488.2,703.8 488.3,702.4 488.3,701.8 488.3,700.6 488.4,700.9 488.4,698.8 488.4,698.7 488.5,696.5 488.5,694.8 488.5,694.4 488.6,693.6 488.6,694.1 488.6,691.0 488.7,690.0 488.7,688.8 488.7,688.1 488.8,689.1 488.8,688.0 488.8,685.0 488.9,683.5 488.9,683.8 488.9,683.1 488.9,680.8 489.0,680.7 489.0,680.8 489.0,677.5 489.1,678.5 489.1,677.4 489.1,676.7 489.1,674.8 489.2,673.8 489.2,673.0 489.2,671.0 489.2,671.2 489.2,669.5 489.3,668.8 489.3,667.1 489.3,666.6 489.3,665.4 489.3,666.0 489.3,664.2 489.4,664.2 489.4,663.1 489.4,661.4 489.4,660.1 489.4,660.5 489.4,659.8 489.5,658.8 489.5,657.2 489.5,656.3 489.5,653.5 489.5,653.2 489.6,653.5 489.6,650.9 489.6,648.8 489.6,649.0 489.6,649.4 489.6,646.3 489.6,645.6 489.7,645.9 489.7,646.2 489.7,643.8 489.7,642.5 489.7,643.3 489.7,640.3 489.7,640.0 489.7,640.1 489.7,639.9 489.8,639.0 489.8,636.5 489.8,635.4 489.8,634.7 489.8,633.0 489.8,632.5 489.8,633.1 489.8,632.7 489.8,629.6 489.8,628.0 489.9,629.1 489.9,628.7 489.9,627.2 489.9,625.0 489.9,625.0 489.9,624.0 489.9,622.9 489.9,621.1 490.0,621.6 490.0,619.9 490.0,617.1 490.0,616.7 490.0,614.5 490.0,614.3 490.0,614.6 490.1,612.5 490.1,611.5 490.1,611.2 490.1,607.9 490.1,607.6 490.2,606.9 490.2,605.8 490.2,605.2 490.2,604.9 490.2,603.3 490.3,601.3 490.3,600.6 490.3,599.2 490.3,599.8 490.4,597.6 490.4,596.7 490.4,595.1 490.4,594.2 490.4,594.4 490.5,592.2 490.5,592.9 490.5,591.3 490.5,591.1 490.6,589.2 490.6,587.8 490.6,586.1 490.6,583.9 490.7,585.0 490.7,584.2 490.7,583.0 490.8,582.1 490.8,578.7 490.8,579.7 490.8,577.3 490.9,576.6 490.9,577.1 490.9,574.4 491.0,573.6 491.0,571.1 491.0,570.4 491.0,569.4 491.1,568.3 491.1,568.3 491.1,565.6 491.2,564.6 491.2,563.5 491.2,564.6 491.3,564.3 491.3,562.5 491.3,560.6 491.4,558.2 491.4,559.3 491.4,556.1 491.4,554.8 491.5,555.2 491.5,555.4 491.5,552.4 491.6,553.3 491.6,550.5 491.6,551.6 491.7,549.8 491.7,549.3 491.7,548.7 491.8,547.1 491.8,544.0 491.8,544.2 491.8,543.3 491.9,543.0 491.9,540.4 491.9,540.7 492.0,538.8 492.0,537.5 492.0,537.6 492.1,538.0 492.1,536.3 492.1,534.8 492.1,533.6 492.2,533.3 492.2,532.6 492.3,530.7 492.3,529.4 492.4,527.7 492.4,526.7 492.5,526.8 492.5,525.4 492.6,524.2 492.6,524.2 492.7,522.2 492.7,519.1 492.8,519.1 492.9,518.6 492.9,518.5 493.0,516.7 493.0,514.2 493.1,514.7 493.1,514.5 493.2,514.2 493.2,512.1 493.3,510.3 493.3,508.8 493.4,509.8 493.4,509.9 493.5,506.6 493.6,507.4 493.6,506.8 493.7,505.8 493.7,503.6 493.8,502.2 493.8,501.0 493.9,501.2 493.9,502.5 494.0,499.7 494.1,500.9 494.1,499.3 494.2,497.3 494.2,495.7 494.3,495.2 494.3,495.3 494.4,492.2 494.4,490.5 494.5,492.5 494.6,490.4 494.6,488.3 494.7,487.4 494.7,485.1 494.8,486.0 494.8,485.9 494.9,483.7 495.0,483.5 495.0,482.7 495.1,480.0 495.1,480.2 495.2,480.6 495.3,478.5 495.3,475.3 495.4,476.3 495.4,475.2 495.5,474.8 495.6,473.5 495.6,473.4 495.7,472.7 495.8,468.4 495.9,468.6 495.9,465.7 496.0,468.8 496.1,463.9 496.2,464.3 496.3,464.0 496.3,462.2 496.4,460.0 496.5,460.4 496.6,458.1 496.7,458.3 496.8,458.2 496.9,455.3 497.0,455.0 497.1,454.8 497.2,453.3 497.2,453.6 497.3,453.0 497.4,452.3 497.5,447.5 497.6,448.0 497.7,445.3 497.9,447.0 498.0,444.6 498.1,445.7 498.2,443.0 498.3,443.5 498.4,438.8 498.5,440.6 498.6,438.6 498.8,439.7 498.9,435.0 499.0,433.9 499.1,435.9 499.3,433.1 499.4,432.6 499.5,431.4 499.7,433.4 499.8,430.5 500.0,430.5 500.1,429.5 500.3,428.6 500.4,425.4 500.6,423.5 500.8,423.7 500.9,424.6 501.1,423.5 501.2,420.4 501.4,421.6 501.6,419.8 501.7,415.1 501.9,417.1 502.0,417.0 502.2,412.1 502.4,412.8 502.5,413.2 502.7,411.6 502.8,410.7 503.0,407.5 503.1,407.5 503.2,409.7 503.4,406.1 503.5,405.9 503.7,405.3 503.8,402.6 504.0,402.2 504.1,401.6 504.3,402.5 504.4,401.3 504.5,396.9 504.7,397.7 504.8,398.0 504.9,397.8 505.1,395.0 505.2,394.6 505.3,393.7 505.5,392.9 505.6,393.1 505.7,392.6 505.9,391.6 506.0,386.0 506.2,388.0 506.3,385.2 506.5,383.4 506.7,381.2 506.8,384.6 507.0,383.6 507.1,380.8 507.2,379.6 507.4,377.1 507.5,379.9 507.7,378.0 507.8,373.9 508.0,374.9 508.2,376.0 508.3,371.1 508.5,370.6 508.7,369.5 508.8,368.4 509.0,366.0 509.2,367.5 509.3,364.4 509.5,365.5 509.7,363.3 509.8,364.2 510.0,362.6 510.2,362.1 510.3,357.4 510.5,359.7 510.7,358.6 510.8,355.1 511.0,352.6 511.1,352.2 511.3,354.7 511.4,354.9 511.5,349.3 511.7,349.4 511.8,349.5 512.0,346.3 512.3,348.0 512.5,347.9 512.7,346.7 512.9,342.2 513.1,345.0 513.2,343.4 513.4,339.3 513.6,342.0 513.8,341.6 513.9,340.5 514.1,339.0 514.3,338.5 514.4,336.2 514.6,332.6 514.8,335.2 515.0,333.3 515.2,330.4 515.4,329.3 515.6,332.2 515.8,331.3 516.1,325.7 516.3,324.5 516.5,327.1 516.7,323.9 516.9,326.0 517.1,322.7 517.4,323.1 517.6,318.3 517.8,321.4 518.0,317.1 518.3,317.3 518.5,316.6 518.7,314.7 519.0,313.2 519.2,313.4 519.4,310.0 519.7,309.6 519.9,308.3 520.2,311.6 520.4,307.3 520.7,310.4 520.9,308.9 521.1,303.3 521.4,306.6 521.6,306.5 521.8,302.2 522.1,301.6 522.3,301.9 522.5,299.9 522.8,297.2 523.2,299.0 523.5,294.6 523.8,294.6 524.1,291.2 524.4,292.3 524.7,294.6 524.9,289.2 525.2,288.7 525.5,289.3 525.9,287.4 526.2,284.3 526.5,283.6 526.8,283.6 527.2,286.7 527.6,285.7 528.0,285.1 528.7,283.3 529.5,284.4 530.3,278.6 531.2,280.9 532.0,278.7 533.0,281.7 534.0,277.9 535.0,279.8 536.0,280.4 536.9,281.9 537.8,280.9 538.7,278.5 539.6,281.4 540.5,283.5 540.9,285.2 541.4,281.3 541.8,285.5 542.3,286.4 542.7,283.7 543.2,284.5 543.6,288.6 544.1,289.9 544.5,289.1 545.0,292.0 545.5,289.7 545.9,293.4 546.4,293.9 546.8,296.7 547.3,296.7 547.8,293.1 548.3,297.2 548.8,295.2 549.4,299.0 550.0,301.2 550.4,302.1 550.7,298.3 551.1,302.5 551.5,301.1 551.9,304.1 552.4,304.9 552.8,305.8 553.2,308.6 553.7,306.6 554.1,308.7 554.6,308.2 555.0,308.9 555.4,312.7 555.9,310.7 556.3,315.7 556.7,314.0 557.1,313.4 557.5,318.5 557.9,314.8 558.3,317.4 558.7,320.6 559.1,317.7 559.4,322.8 559.8,322.9 560.2,326.4 560.6,323.4 560.9,327.4 561.3,329.3 561.6,327.4 562.0,326.0 562.3,328.5 562.7,332.2 563.0,328.5 563.4,333.1 563.7,333.4 564.0,335.6 564.4,334.5 564.7,338.7 565.0,335.1 565.4,337.7 565.7,338.1 566.0,340.5 566.3,339.6 566.6,341.5 566.9,342.8 567.2,346.4 567.5,342.5 567.8,344.9 568.1,345.2 568.4,349.2 568.7,350.5 569.0,347.4 569.3,352.5 569.5,354.0 569.8,352.8 570.1,354.4 570.3,356.4 570.6,358.1 570.8,355.5 571.0,358.9 571.3,356.7 571.5,359.1 571.8,362.9 572.0,362.4 572.3,362.9 572.5,363.5 572.8,364.5 573.0,363.4 573.3,367.0 573.6,369.8 573.9,366.8 574.1,367.4 574.4,371.2 574.7,373.1 575.0,372.2 575.3,371.6 575.6,375.2 575.9,376.2 576.2,375.2 576.5,378.9 576.8,378.6 577.1,380.7 577.4,379.1 577.7,380.7 578.0,383.1 578.3,384.1 578.6,385.9 578.9,387.3 579.1,387.3 579.4,385.1 579.7,388.2 580.0,390.1 580.3,391.6 580.5,390.6 580.8,390.6 581.1,393.8 581.3,393.2 581.6,395.5 581.9,395.3 582.1,399.0 582.3,396.3 582.6,399.4 582.8,401.6 583.1,401.7 583.4,400.7 583.6,403.2 583.8,405.2 584.1,405.3 584.3,407.2 584.5,407.7 584.7,406.8 584.9,406.7 585.2,410.0 585.5,410.3 585.8,413.0 586.0,412.2 586.2,414.1 586.3,412.7 586.5,415.9 586.7,417.1 586.9,417.8 587.1,418.5 587.3,419.0 587.5,418.0 587.7,419.5 587.9,420.3 588.1,421.3 588.4,423.4 588.6,423.7 588.8,425.8 589.1,427.7 589.3,429.2 589.6,426.7 589.9,430.1 590.2,431.1 590.5,431.8 590.8,434.1 591.0,435.5 591.2,434.1 591.5,436.3 591.7,435.5 591.9,437.4 592.2,438.0 592.4,440.5 592.7,441.7 593.0,442.5 593.2,442.3 593.5,443.9 593.8,444.7 594.1,445.3 594.4,445.0 594.6,446.5 594.9,449.7 595.2,449.6 595.5,449.1 595.8,450.9 596.1,451.2 596.4,452.2 596.7,454.1 597.0,454.9 597.3,455.1 597.6,457.5 597.8,459.9 598.1,459.5 598.4,460.4 598.7,461.3 599.0,462.0 599.2,463.2 599.5,463.9 599.7,465.5 600.0,467.9 600.2,467.3 600.5,469.7 600.7,469.6 601.0,471.0 601.2,471.6 601.4,472.3 601.7,474.6 601.9,474.8 602.1,474.7 602.4,476.0 602.6,477.2 602.8,478.6 603.0,479.1 603.3,479.8 603.5,480.9 603.7,483.6 603.9,484.0 604.1,485.2 604.4,486.3 604.6,485.4 604.8,487.4 605.0,488.8 605.2,489.2 605.5,490.3 605.7,491.5 605.9,492.5 606.1,492.4 606.4,493.1 606.6,494.6 606.8,495.0 607.1,496.6 607.3,497.0 607.6,498.2 607.8,500.3 608.0,500.3 608.3,502.4 608.5,502.8 608.8,504.6 609.0,505.0 609.3,506.6 609.6,506.7 609.8,507.7 610.1,509.7 610.3,510.2 610.6,510.6 610.8,512.5 611.1,513.2 611.4,514.0 611.6,513.7 611.9,516.4 612.1,515.9 612.4,516.7 612.7,518.3 612.9,519.0 613.2,520.0 613.5,521.5 613.7,522.5 614.0,523.9 614.3,525.2 614.5,525.8 614.8,527.2 615.1,527.3 615.3,527.7 615.6,529.8 615.9,531.3 616.2,530.7 616.4,532.5 616.7,533.1 617.0,535.2 617.2,534.4 617.5,536.2 617.8,536.9 618.1,538.0 618.3,539.7 618.6,539.2 618.9,540.7 619.2,543.0 619.4,543.0 619.7,543.2 620.0,545.3 620.3,546.4 620.5,547.9 620.8,548.8 621.1,549.9 621.4,549.5 621.7,550.6 621.9,552.3 622.2,552.7 622.5,553.7 622.8,554.0 623.1,555.3 623.4,556.2 623.6,557.6 623.9,559.2 624.2,559.2 624.5,560.4 624.8,561.0 625.1,562.6 625.3,563.9 625.6,564.9 625.9,566.0 626.2,566.8 626.5,568.1 626.8,569.2 627.1,570.3 627.3,569.7 627.6,572.4 627.9,572.5 628.2,574.5 628.5,575.0 628.8,575.5 629.1,575.7 629.4,576.7 629.6,579.0 629.9,578.5 630.2,579.6 630.5,581.8 630.8,582.6 631.1,583.7 631.4,583.5 631.7,586.2 632.0,586.8 632.3,586.4 632.6,588.4 632.9,588.9 633.1,589.7 633.4,591.4 633.7,593.1 634.0,592.3 634.4,594.7 634.7,595.9 635.0,595.3 635.3,597.8 635.6,597.2 635.9,598.7 636.2,599.1 636.5,600.4 636.8,601.3 637.1,603.0 637.5,603.8 637.8,605.8 638.1,606.4 638.4,606.2 638.8,607.2 639.1,608.6 639.4,610.6 639.8,611.6 640.1,612.7 640.4,613.7 640.8,614.5 641.1,615.2 641.4,616.8 641.8,617.8 642.1,618.8 642.5,619.9 642.8,620.2 643.1,620.4 643.5,622.4 643.8,623.5 644.1,624.9 644.5,625.4 644.8,626.6 645.1,627.5 645.4,627.4 645.7,629.3 646.0,629.5 646.3,630.1 646.6,630.9 646.9,631.8 647.2,632.4 647.5,633.7 648.0,634.2 648.5,635.7 649.0,637.2 649.5,638.8 650.0,639.3 650.5,639.9 650.9,640.4 651.3,641.7 651.8,642.9 652.2,642.1 652.6,643.5 653.1,644.1 653.5,645.7 654.0,646.3 654.4,646.1 654.9,648.5 655.3,648.7 655.8,649.4 656.1,650.1 656.5,651.0 656.8,652.2 657.2,652.9 657.6,654.9 658.0,654.9 658.3,656.5 658.7,657.9 659.1,658.6 659.5,659.4 659.9,660.8 660.3,661.9 660.6,663.2 661.0,664.3 661.4,664.9 661.8,666.5 662.1,667.8 662.5,669.0 662.9,669.4 663.2,669.9 663.5,670.3 663.8,671.9 664.2,673.6 664.5,674.4 664.7,674.7 665.0,674.5 665.6,676.0 666.1,676.9 666.4,678.0 666.7,679.2 667.0,678.3 667.3,679.8 667.8,680.2 668.4,681.0 669.3,683.2 669.6,683.2 669.8,684.7 670.1,685.8 670.4,685.6 670.7,687.4 671.1,687.1 671.4,688.0 671.7,689.3 672.1,689.4 672.4,690.0 672.8,691.6 673.2,692.5 673.6,692.9 674.0,693.9 674.4,694.8 674.8,695.9 675.2,696.8 675.6,698.6 676.0,700.0 676.4,700.5 676.9,701.0 677.3,702.5 677.7,704.2 678.1,704.3 678.6,705.9 679.0,705.9 679.5,708.1 679.9,709.3 680.3,709.8 680.8,711.4 681.2,711.9 681.6,713.2 682.0,713.8 682.5,714.6 682.9,715.4 683.3,716.8 683.7,718.0 684.1,717.8 684.5,719.7 684.9,719.6 685.3,721.5 685.7,722.5 686.1,723.7 686.5,724.3 686.9,725.2 687.3,726.2 687.7,727.1 688.1,728.1 688.5,729.0 688.9,730.2 689.3,730.4 689.7,732.2 690.1,732.0 690.5,732.7 690.9,733.7 691.3,735.4 691.7,736.7 692.2,736.6 692.6,738.6 693.0,739.0 693.4,740.2 693.8,740.4 694.3,742.5 694.7,742.6 695.1,743.2 695.5,744.7 696.0,744.7 696.4,746.5 696.8,747.7 697.3,747.5 697.7,748.6 698.1,749.5 698.6,750.2 699.0,751.7 699.5,752.9 700.0,753.3 700.5,754.6 701.0,755.8 701.5,756.6 702.0,757.0 702.5,758.6 703.1,758.6 703.6,760.4 704.1,760.3 704.6,761.5 705.1,762.1 705.7,763.6 706.2,763.9 706.7,765.5 707.3,765.8 707.8,767.3 708.3,768.0 708.9,768.6 709.4,769.2 709.9,770.9 710.5,771.0 711.0,772.1 711.5,773.7 712.0,774.4 712.6,775.0 713.1,775.7 713.6,776.8 714.1,777.6 714.7,778.4 715.2,779.1 715.7,779.4 716.2,780.6 716.7,780.9 717.4,782.0 718.0,782.3 718.7,783.4 719.3,784.9 720.0,785.1 720.6,786.0 721.2,787.8 721.9,788.7 722.5,789.6 723.2,790.2 723.8,790.4 724.4,791.5 725.1,792.2 725.7,792.5 726.3,793.3 727.0,794.6 727.6,795.2 728.2,796.1 728.9,797.3 729.5,797.0 730.1,797.8 730.8,799.6 731.4,799.3 732.0,800.3 732.7,801.3 733.3,801.7 734.0,802.7 734.7,803.2 735.4,804.8 736.1,804.9 736.8,806.3 737.5,806.8 738.2,807.7 738.9,808.0 739.6,809.7 740.3,809.5 740.9,811.3 741.6,811.1 742.3,812.3 743.0,813.1 743.7,814.1 744.4,814.4 745.1,816.0 745.8,816.0 746.5,816.6 747.2,817.9 747.9,818.5 748.6,819.1 749.3,820.2 750.0,820.8 750.8,821.0 751.6,822.3 752.4,823.1 753.2,822.9 754.0,824.1 754.8,825.2 755.6,825.4 756.4,826.0 757.2,826.8 758.0,827.9 758.8,827.7 759.5,829.0 760.3,829.7 761.1,830.6 761.9,830.9 762.7,831.1 763.5,832.1 764.3,832.8 765.1,832.9 765.9,834.1 766.7,834.6 767.5,835.2 768.4,836.0 769.2,836.6 770.0,836.8 770.9,837.4 771.7,838.0 772.5,838.9 773.3,839.4 774.2,840.4 775.0,840.6 775.8,841.2 776.7,842.2 777.5,843.0 778.3,843.3 779.1,843.6 780.0,844.9 780.8,845.1 781.6,846.0 782.5,846.4 783.3,847.0 784.2,847.5 785.2,848.0 786.1,848.6 787.0,849.0 787.9,849.7 788.9,850.2 789.8,850.0 790.7,850.7 791.6,851.6 792.6,851.8 793.5,852.2 794.4,852.5 795.4,852.7 796.3,853.4 797.2,853.5 798.1,854.1 799.1,854.9 800.0,855.4 800.9,856.0 801.8,856.5 802.7,857.1 803.7,857.4 804.7,858.2 805.6,857.9 806.6,858.9 807.6,859.9 808.5,860.2 809.5,860.8 810.4,861.5 811.3,861.0 812.2,862.0 813.0,863.0 813.9,862.8 814.6,863.5 815.4,863.6 816.1,863.9 816.7,865.6 817.7,866.3 818.6,867.4 819.2,868.7 819.7,869.2 820.2,871.5 823.0,885.7 826.8,861.3 828.9,865.9 831.1,843.0 834.0,841.7 837.2,842.3 841.0,885.8 843.7,861.9 846.3,873.1 849.0,836.9 851.9,871.1 855.1,860.0 858.4,874.0 860.5,842.0 863.3,867.3 865.2,863.6 868.0,862.5 871.0,857.8 874.9,880.1 878.9,871.4 883.0,883.3 885.0,875.2 888.0,883.5 891.1,876.5 894.1,883.8 896.0,879.6 897.1,882.3 898.1,879.1 899.1,879.6 900.1,882.5 901.1,883.2 902.1,881.7 903.0,885.4 904.0,881.6 904.9,885.0 905.9,884.0 906.8,884.4 907.9,883.8 908.9,882.6 909.9,884.0 910.9,884.8 911.9,884.9 912.9,885.0 914.1,883.5 915.3,884.0 916.7,883.1 917.6,883.8 918.5,883.8 919.4,884.7 920.4,883.0 921.4,882.9 922.4,884.3 923.5,884.7 924.6,883.0 925.7,884.5 926.8,883.2 927.9,884.9 929.0,884.3 930.1,883.3 931.2,883.7 932.2,884.8 933.3,885.1 934.3,882.9 935.4,883.8 936.4,883.0 937.5,885.0 938.5,884.9 939.6,883.6 940.6,884.6 941.6,883.1 942.7,884.5 943.7,882.9 944.8,883.2 945.8,883.7 946.9,884.2 947.9,883.6 949.0,882.7 950.0,882.6 951.0,882.9 952.1,883.3 953.1,884.3 954.2,883.3 955.2,885.2 956.3,884.7 957.3,884.0 958.4,884.8 959.4,885.6 960.4,884.4 961.5,885.5 962.5,885.6 963.6,886.2 964.6,885.9 965.7,884.6 966.7,886.7 967.7,885.2 968.8,886.3 969.8,885.2 970.9,886.9 971.9,887.1 972.9,887.2 974.0,887.0 975.0,887.6 976.0,886.8 977.1,887.7 978.1,886.4 979.1,886.2 980.2,886.5 981.2,887.0 982.3,888.1 983.3,888.2 984.3,887.1 985.4,888.4 986.4,888.8 987.5,887.7 988.5,888.6 989.6,887.8 990.6,888.1 991.6,887.8 992.7,888.2 993.7,887.8 994.8,888.7 995.8,889.8 996.9,888.4 997.9,888.6 999.0,890.4 1000.0,889.1 1001.0,889.0 1002.1,888.9 1003.1,888.7 1004.2,890.8 1005.2,890.5 1006.3,891.2 1007.3,891.1 1008.4,890.6 1009.4,891.4 1010.4,889.8 1011.5,891.1 1012.5,891.3 1013.6,889.8 1014.6,891.7 1015.7,891.9 1016.7,890.1 1017.7,890.0 1018.8,889.9 1019.9,890.1 1020.9,890.5 1022.0,891.6 1023.1,890.2 1024.2,890.2 1025.3,891.3 1026.3,891.6 1027.4,889.7 1028.4,891.5 1029.4,891.3 1030.4,890.4 1031.4,890.7 1032.4,889.7 1033.3,890.7 1034.4,889.6 1035.5,891.4 1036.4,890.8 1037.3,889.9 1038.1,890.0 1039.0,890.8 1039.9,890.1 1040.8,891.2 1041.9,890.8 1043.1,891.3 1044.4,889.8 1046.0,890.1 1046.8,891.9 1047.5,891.4 1048.4,890.8 1049.2,892.3 1050.1,890.1 1051.0,891.5 1051.9,890.4 1052.8,890.9 1053.8,890.8 1054.8,891.3 1055.8,890.6 1056.8,891.0 1057.8,892.3 1058.9,891.2 1059.9,892.1 1061.0,893.4 1062.1,893.0 1063.2,891.5 1064.3,893.2 1065.4,893.0 1066.5,893.0 1067.7,893.7 1068.8,894.2 1069.9,893.0 1071.0,894.2 1072.2,892.8 1073.3,893.8 1074.2,894.7 1075.2,894.6 1076.1,893.7 1077.1,895.1 1078.0,894.5 1079.0,895.4 1080.0,895.3 1081.0,894.6 1082.0,894.5 1083.0,894.2 1084.0,896.1 1085.0,894.4 1086.0,894.5 1087.0,895.2 1088.1,894.9 1089.1,895.3 1090.1,896.6 1091.2,895.8 1092.2,897.3 1093.3,896.3 1094.3,897.6 1095.3,897.6 1096.4,896.4 1097.4,897.3 1098.5,897.7 1099.5,896.6 1100.6,896.5 1101.6,898.6 1102.6,896.7 1103.6,897.2 1104.7,897.2 1105.7,899.0 1106.7,898.7 1107.7,898.4 1108.7,898.5 1109.7,899.7 1110.7,898.0 1111.8,899.6 1112.8,898.4 1113.8,898.4 1114.8,899.5 1115.8,898.9 1116.8,899.3 1117.8,899.7 1118.8,898.2 1119.8,899.1 1120.8,899.2 1121.8,900.2 1122.9,900.2 1123.9,899.4 1124.9,899.4 1125.9,900.4 1126.9,900.3 1127.9,898.7 1128.9,900.6 1129.9,900.8 1130.9,899.5 1131.9,900.5 1132.9,900.1 1133.9,899.7 1135.0,899.3 1136.0,900.5 1137.0,901.1 1138.0,900.4 1139.0,901.0 1140.0,900.0 1141.0,901.7 1142.1,901.6 1143.1,901.1 1144.2,900.3 1145.3,900.2 1146.3,901.3 1147.4,901.1 1148.6,900.7 1149.7,901.5 1150.8,903.2 1151.9,902.3 1153.0,902.9 1154.1,902.4 1155.2,902.3 1156.4,902.1 1157.5,903.2 1158.5,903.7 1159.6,903.4 1160.7,903.5 1161.7,903.9 1162.8,903.1 1163.8,905.0 1164.8,905.0 1165.8,903.5 1166.7,905.3 1167.7,905.0 1168.6,903.6 1169.4,905.4 1170.3,905.7 1171.1,904.5 1171.9,904.4 1172.6,905.2 1173.3,904.2 1175.2,904.7 1176.8,906.2 1178.2,905.7 1179.4,905.9 1180.4,907.2 1181.3,907.1 1182.1,905.9 1182.8,905.3 1183.5,905.3 1184.2,906.7 1185.0,906.3 1186.2,907.0 1187.1,905.4 1188.0,905.0 1188.7,904.7 1189.5,903.3 1190.2,902.6 1191.0,901.7 1192.0,901.3 1192.9,901.1 1193.9,899.8 1194.8,899.9 1195.8,898.6 1196.7,899.1 1197.6,898.8 1198.5,899.7 1199.4,900.9 1200.3,900.1 1201.2,900.9 1202.0,902.3 1202.5,903.2 1202.9,903.8 1203.3,905.8 1203.6,906.6 1204.1,907.6 1204.7,909.3 1205.5,908.7 1206.7,911.5 1207.4,911.6 1208.1,910.7 1209.0,912.2 1209.9,912.8 1210.9,911.1 1211.9,912.3 1212.9,913.5 1214.0,912.9 1215.1,912.8 1216.2,913.4 1217.3,913.7 1218.4,915.0 1219.5,914.8 1220.5,914.7 1221.5,916.5 1222.4,915.2 1223.3,915.9 1224.4,917.1 1225.4,917.6 1226.3,916.6 1227.2,916.9 1228.0,917.7 1228.8,917.8 1229.7,918.1 1230.5,918.3 1231.5,917.7 1232.5,917.8 1233.7,918.8 1235.0,918.1 1235.8,918.6 1236.6,917.5 1237.5,918.2 1238.3,917.7 1239.2,918.4 1240.1,919.2 1241.1,917.3 1242.0,917.3 1243.0,917.4 1244.0,917.1 1245.0,916.5 1246.1,916.3 1247.1,917.5 1248.2,917.8 1249.4,915.6 1250.5,917.3 1251.7,917.2 1252.9,917.0 1254.1,916.9 1255.4,915.3 1256.7,915.7 1257.5,917.0 1258.4,916.2 1259.3,916.9 1260.2,915.6 1261.1,917.1 1262.0,917.2 1263.0,915.5 1264.0,916.9 1264.9,917.6 1265.9,915.3 1266.9,915.8 1268.0,917.5 1269.0,917.0 1270.0,916.3 1271.1,915.9 1272.1,917.7 1273.2,915.7 1274.2,918.1 1275.3,915.8 1276.3,916.6 1277.4,917.1 1278.5,917.4 1279.5,918.0 1280.6,917.1 1281.7,918.4 1282.7,917.0 1283.8,917.2 1284.8,918.7 1285.9,917.2 1286.9,917.7 1288.0,916.7 1289.0,918.5 1290.0,917.8 1291.0,918.7 1292.0,918.3 1293.1,917.7 1294.1,916.9 1295.2,917.6 1296.3,918.0 1297.4,917.7 1298.4,917.9 1299.5,917.5 1300.6,917.4 1301.7,919.1 1302.8,918.9 1303.9,917.9 1305.0,919.0 1306.1,917.2 1307.2,918.6 1308.2,917.7 1309.3,917.8 1310.3,918.3 1311.4,918.5 1312.4,917.9 1313.4,917.8 1314.4,918.2 1315.4,919.2 1316.4,919.5 1317.3,919.4 1318.3,919.1 1319.2,919.7 1320.0,917.5 1320.9,919.5 1321.7,918.3 1322.5,917.5 1323.3,918.0 1324.8,919.6 1326.2,919.2 1327.5,917.9 1328.8,918.5 1329.9,920.0 1331.0,920.2 1332.0,920.2 1333.0,920.1 1333.9,920.3 1334.8,920.2 1335.7,919.3 1336.5,918.9 1337.4,919.7 1338.3,918.6 1339.1,920.0 1340.0,919.5 1341.2,919.5 1342.3,920.3 1343.3,921.2 1344.3,921.1 1345.3,920.5 1346.2,922.9 1347.2,921.5 1348.1,922.7 1349.0,923.7 1350.0,923.7 1351.0,923.5 1352.0,924.9 1353.0,923.4 1353.9,924.9 1354.9,924.3 1355.9,925.7 1356.8,925.6 1357.8,927.4 1358.8,926.9 1359.8,926.7 1360.8,927.0 1361.8,927.3 1362.9,928.4 1363.9,929.5 1365.0,929.7 1365.9,929.3 1366.9,927.6 1367.8,928.8 1368.8,927.7 1369.8,927.1 1370.8,926.8 1371.8,928.1 1372.8,926.1 1373.8,927.7 1374.8,926.1 1375.8,925.9 1376.9,926.9 1377.9,924.9 1378.9,925.3 1380.0,926.1 1381.0,925.5 1382.0,924.5 1383.0,924.1 1384.1,925.7 1385.1,925.2 1386.1,926.0 1387.2,924.1 1388.2,924.4 1389.3,925.4 1390.4,924.5 1391.4,926.1 1392.5,924.5 1393.6,924.1 1394.6,925.1 1395.7,924.2 1396.7,925.0 1397.7,926.5 1398.7,925.9 1399.7,925.5 1400.7,926.3 1401.7,926.9 1402.7,925.2 1403.7,927.6 1404.7,927.7 1405.7,926.7 1406.7,926.5 1407.7,927.9 1408.8,927.8 1409.9,927.0 1411.0,928.4 1412.1,928.5 1413.3,928.9 1414.2,927.7 1415.1,929.2 1416.0,929.2 1417.0,930.4 1417.9,930.3 1418.9,930.5 1419.9,930.4 1420.9,929.9 1421.9,931.5 1422.9,930.4 1423.9,932.3 1425.0,931.6 1426.0,931.5 1427.0,931.7 1428.0,932.1 1429.1,932.4 1430.1,931.8 1431.1,932.5 1432.1,931.8 1433.1,933.2 1434.0,932.3 1435.0,932.6 1436.0,932.3 1437.0,933.5 1438.0,932.4 1439.0,933.5 1440.0,934.0 1441.0,932.7 1441.9,933.2 1442.9,933.1 1443.8,933.4 1444.8,933.1 1445.8,933.2 1446.7,934.3 1447.7,932.2 1448.7,934.3 1449.7,934.2 1450.7,933.5 1451.7,933.7 1452.8,933.5 1453.9,932.7 1455.0,932.0 1455.9,931.8 1456.8,932.9 1457.8,933.0 1458.7,933.0 1459.7,933.5 1460.7,931.7 1461.6,932.4 1462.6,931.5 1463.6,932.8 1464.6,930.7 1465.7,931.9 1466.7,932.4 1467.7,930.7 1468.7,932.3 1469.8,930.8 1470.8,932.1 1471.8,930.3 1472.9,931.6 1473.9,930.1 1474.9,931.1 1475.9,931.1 1477.0,930.1 1478.0,930.4 1479.0,930.3 1480.0,930.5 1481.0,930.1 1482.0,929.5 1483.1,929.5 1484.1,929.0 1485.1,928.0 1486.2,927.2 1487.2,929.1 1488.3,926.9 1489.3,927.4 1490.4,926.6 1491.4,926.5 1492.5,926.1 1493.5,926.8 1494.6,925.5 1495.6,927.1 1496.6,926.3 1497.6,924.9 1498.6,924.9 1499.6,926.1 1500.5,926.5 1501.5,925.0 1502.4,923.6 1503.3,924.2 1504.2,925.3 1505.0,924.5 1506.2,926.0 1507.4,923.0 1508.6,927.7 1509.7,923.2 1510.8,926.5 1513.9,926.1 1516.8,931.2 1519.4,925.1 1523.2,934.2 1525.5,930.4 1529.1,934.7 1531.0,925.4 1533.7,932.0 1537.3,923.0 1540.1,934.7 1542.4,928.3 1546.0,941.6 1549.7,933.0 1552.6,934.7 1555.0,934.1 1557.7,939.4 1559.7,934.9 1562.9,939.0 1566.1,937.4 1570.1,947.7 1574.1,938.7 1577.0,947.3 1580.0,936.8 1583.0,946.4 1585.1,936.1 1587.2,945.8 1589.3,935.9 1592.5,945.6 1594.6,934.9 1597.6,944.9 1600.7,934.0 1603.9,943.2 1606.8,930.5 1608.7,941.8 1611.6,929.7 1615.4,939.4 1618.2,925.8 1621.1,938.9 1623.9,925.9 1626.7,941.4 1630.0,929.3 1632.7,942.2 1635.7,930.7 1638.8,945.1 1641.9,931.8 1644.9,946.2 1647.9,931.4 1650.1,948.5 1653.1,935.2 1656.0,950.9 1659.0,935.5 1662.2,950.7 1665.4,947.9 1668.5,950.7 1671.7,936.2 1673.7,953.7 1676.6,937.9 1679.6,954.0 1683.2,938.9 1685.9,957.5 1689.1,946.0 1692.5,962.7 1695.1,945.9 1697.9,961.6 1701.9,942.3 1705.6,961.1 1708.4,955.2 1711.4,964.4 1715.2,949.2 1718.1,967.0 1720.2,948.7 1723.4,967.6 1725.4,954.2 1729.0,965.3 1731.6,950.4 1733.7,970.9 1736.1,953.6 1739.8,973.3 1742.9,960.8 1746.1,976.6 1750.0,969.4 1753.3,972.8 1756.9,954.7 1759.7,970.1 1763.6,953.6 1766.8,971.0 1770.0,953.4 1773.0,971.7 1775.9,955.7 1778.8,973.0 1781.7,959.7 1784.4,974.8 1787.9,960.4 1790.9,979.2 1793.8,963.9 1797.1,974.3 1800.2,971.2 1803.4,991.3 1806.0,973.4 1809.5,977.8 1812.2,977.9 1815.9,989.3 1818.8,979.5 1821.8,997.3 1824.8,981.0 1826.8,996.8 1828.9,981.7 1832.0,997.3 1835.0,979.9 1838.2,996.2 1840.4,979.6 1842.6,995.2 1845.8,976.4 1847.8,991.7 1849.6,975.8 1853.5,991.6 1856.4,972.5 1860.0,994.2 1863.3,978.0 1866.1,994.3 1869.2,978.7 1872.7,997.3 1875.7,980.8 1878.7,998.1 1881.9,992.9 1885.3,999.4 1888.7,980.5 1891.8,997.6 1895.5,981.4 1898.7,998.1 1900.9,979.0 1905.0,994.7 1908.7,976.7 1910.7,996.6 1913.8,977.3 1917.0,995.4 1921.0,978.7 1924.0,987.1 1926.0,956.4 1930.0,984.2 1932.7,976.5 1935.3,999.6 1937.9,981.9 1940.9,1002.1 1943.8,985.0 1945.9,987.5 1949.4,952.2 1951.8,987.3 1954.0,987.7 1957.1,1000.2 1959.4,980.0"/><polyline stroke="#0000ff" points="427.5,892.8 427.5,893.4 427.5,894.3 427.6,894.7 427.6,896.0 427.6,897.3 427.7,898.4 427.7,898.9 427.7,900.5 427.8,901.7 427.8,902.8 427.9,904.5 427.9,905.2 427.9,906.2 428.0,907.8 428.0,908.4 428.0,909.3 428.1,910.5 428.1,911.8 428.2,912.5 428.2,914.1 428.3,915.3 428.3,916.0 428.4,917.4 428.4,918.5 428.5,919.1 428.5,920.2 428.5,920.7 428.6,921.6 428.6,923.4 428.7,923.6 428.7,924.4 428.8,926.0 428.8,926.8 428.9,927.3 429.0,928.8 429.1,929.6 429.2,930.4 429.2,931.1 429.3,932.5 429.4,933.3 429.5,934.3 429.6,935.2 429.8,936.1 429.9,937.1 430.0,939.0 430.1,939.9 430.2,940.8 430.3,941.5 430.4,942.6 430.5,943.6 430.6,944.8 430.7,945.6 430.8,946.8 430.8,947.7 430.9,948.7 431.0,950.2 431.1,951.1 431.2,952.2 431.2,953.1 431.3,954.3 431.4,955.6 431.5,956.1 431.5,956.9 431.6,958.3 431.6,959.2 431.7,960.5 431.8,960.8 431.8,962.4 431.9,962.7 431.9,964.4 431.9,965.3 432.0,966.3 432.0,967.8 432.0,968.6 432.0,969.1 432.1,970.3 432.1,971.4 432.1,971.7 432.1,972.7 432.2,974.1 432.3,975.3 432.3,976.1 432.4,977.1 432.4,978.2 432.5,979.0 432.6,980.5 432.7,981.6 432.8,982.1 433.0,982.6 433.2,983.9 433.5,985.3 433.7,985.9 434.1,986.8 434.4,987.9 434.8,989.4 435.2,990.3 435.6,990.9 436.0,992.2 436.5,993.3 437.0,994.5 437.6,995.4 438.3,996.1 438.9,997.5 439.6,998.6 440.2,999.4 440.9,999.9 441.5,1000.1 442.6,1000.1 443.7,1000.1 444.8,999.1 445.6,998.2 446.0,996.7 445.8,995.8 445.3,994.9 444.6,994.0 443.8,992.9 443.1,991.4 442.6,990.4 442.5,990.4 443.0,989.1 444.0,989.8 445.3,989.7 446.6,989.4 447.5,989.5 448.1,988.5 448.5,987.1 448.8,987.1 449.0,985.4 449.3,984.4 449.4,983.6 449.5,982.1 449.6,981.2 449.7,980.3 449.8,980.1 449.9,979.1 450.0,977.6 450.1,976.4 450.2,975.5 450.3,974.8 450.4,973.5 450.6,972.4 450.7,971.6 450.8,970.5 451.0,969.6 451.1,967.8 451.3,966.8 451.4,966.5 451.6,965.2 451.7,963.9 451.9,962.6 452.0,961.7 452.2,960.6 452.3,959.6 452.5,958.5 452.7,957.2 452.8,956.0 452.9,955.0 453.1,953.9 453.2,952.9 453.3,952.1 453.5,950.8 453.6,950.4 453.7,949.1 453.8,948.0 453.9,947.2 454.0,945.8 454.1,944.6 454.2,943.7 454.3,942.9 454.4,941.9 454.5,940.8 454.6,939.8 454.7,939.3 454.9,937.3 455.0,936.7 455.1,935.7 455.3,934.6 455.4,934.1 455.5,932.6 455.7,931.4 455.8,930.5 456.0,930.3 456.1,928.6 456.3,927.4 456.5,927.2 456.6,925.8 456.8,925.1 456.9,923.4 457.1,922.9 457.2,921.1 457.4,920.3 457.5,919.8 457.7,918.6 457.8,917.9 457.9,916.6 458.0,915.9 458.2,914.0 458.3,913.5 458.4,912.0 458.5,910.9 458.6,910.6 458.7,909.1 458.8,908.5 458.9,906.9 459.0,906.3 459.1,905.5 459.2,904.2 459.3,902.8 459.4,902.2 459.5,901.5 459.6,900.3 459.7,898.9 459.8,897.8 459.9,896.5 460.0,896.1 460.1,894.4 460.2,893.5 460.3,892.2 460.4,891.3 460.5,890.5 460.6,889.5 460.7,888.2 460.8,887.4 460.9,886.7 461.0,885.0 461.1,884.0 461.2,883.3 461.4,882.7 461.5,881.6 461.6,880.3 461.7,878.7 461.8,878.5 461.9,877.6 462.0,876.4 462.1,875.0 462.3,873.8 462.4,873.0 462.5,872.2 462.6,871.3 462.7,869.8 462.9,868.8 463.0,867.6 463.1,866.7 463.2,865.7 463.4,864.4 463.5,863.5 463.6,862.9 463.7,861.2 463.9,860.2 464.0,859.2 464.2,858.7 464.3,857.1 464.4,856.6 464.6,855.6 464.7,854.5 464.8,853.4 465.0,851.8 465.1,851.0 465.2,850.3 465.3,848.7 465.4,848.0 465.5,847.2 465.7,846.3 465.8,844.6 465.9,843.4 466.0,842.2 466.1,841.5 466.2,840.6 466.3,839.3 466.4,838.8 466.5,837.6 466.6,836.5 466.7,835.7 466.9,834.2 467.0,833.4 467.1,832.1 467.3,831.0 467.4,829.8 467.6,829.4 467.7,828.5 467.9,826.6 468.1,826.3 468.2,824.6 468.4,823.9 468.6,822.7 468.7,822.3 468.9,820.8 469.1,819.8 469.2,818.6 469.4,817.5 469.6,816.4 469.8,815.2 470.0,814.1 470.2,813.6 470.4,812.8 470.5,811.7 470.7,810.2 470.9,809.9 471.2,807.9 471.4,807.2 471.6,806.1 471.8,804.9 471.9,804.6 472.1,803.3 472.3,801.7 472.5,800.7 472.7,800.3 472.9,798.9 473.0,797.8 473.2,796.9 473.4,796.0 473.5,795.4 473.7,794.3 473.8,793.7 474.0,792.3 474.1,791.8 474.3,790.9 474.4,789.6 474.6,789.0 474.7,787.9 474.9,786.3 475.1,784.7 475.3,783.0 475.4,782.7 475.5,781.5 475.6,780.6 475.7,780.1 475.8,778.9 475.9,778.4 476.1,777.6 476.2,775.9 476.3,775.5 476.4,774.1 476.6,773.3 476.7,772.6 476.8,771.8 476.9,770.2 477.1,769.5 477.2,768.1 477.3,767.6 477.4,765.7 477.6,765.2 477.7,763.5 477.8,762.9 477.9,762.0 478.1,761.0 478.2,759.8 478.3,758.5 478.4,757.3 478.6,756.4 478.7,755.4 478.8,754.3 478.9,753.3 479.0,752.3 479.1,751.5 479.2,750.1 479.3,749.4 479.4,748.2 479.5,746.9 479.6,746.3 479.7,744.8 479.8,744.3 479.8,743.3 479.9,742.3 480.0,741.3 480.1,740.1 480.2,738.9 480.3,737.7 480.4,737.0 480.4,736.3 480.5,734.7 480.6,733.5 480.7,733.1 480.7,732.3 480.8,730.5 480.9,729.4 481.0,728.4 481.0,727.9 481.1,727.2 481.2,725.5 481.2,725.1 481.3,723.2 481.4,722.4 481.5,721.8 481.5,721.1 481.6,719.7 481.7,719.0 481.7,717.5 481.8,716.5 481.9,715.7 481.9,714.0 482.0,713.2 482.1,712.4 482.1,711.9 482.2,710.2 482.3,709.2 482.3,709.3 482.4,707.8 482.4,706.4 482.5,706.0 482.6,704.9 482.6,704.0 482.7,702.6 482.7,701.7 482.8,699.9 482.9,699.4 482.9,698.3 483.0,697.1 483.0,696.2 483.1,696.1 483.1,694.0 483.2,692.8 483.2,692.1 483.3,690.8 483.3,689.6 483.4,690.1 483.5,688.4 483.5,686.5 483.6,686.4 483.6,684.7 483.7,684.3 483.7,684.1 483.7,683.2 483.8,681.1 483.8,680.8 483.9,679.4 483.9,677.6 484.0,677.3 484.0,677.1 484.1,676.1 484.1,675.1 484.1,674.6 484.2,672.6 484.2,672.3 484.3,671.6 484.3,670.8 484.3,669.8 484.4,668.9 484.4,666.9 484.4,666.0 484.5,665.5 484.5,663.6 484.6,663.0 484.6,662.1 484.6,660.7 484.7,659.7 484.7,659.5 484.7,657.8 484.8,656.2 484.8,656.6 484.9,655.7 484.9,653.1 484.9,652.8 485.0,650.4 485.0,649.4 485.0,648.5 485.0,648.6 485.1,647.6 485.1,647.3 485.1,646.1 485.1,645.4 485.2,644.8 485.2,643.3 485.2,641.7 485.2,640.6 485.2,641.2 485.3,640.2 485.3,638.9 485.3,638.6 485.3,637.4 485.3,635.6 485.3,634.2 485.4,633.8 485.4,633.9 485.4,632.8 485.4,630.0 485.4,629.0 485.5,629.0 485.5,629.0 485.5,627.9 485.5,626.8 485.5,624.1 485.6,623.4 485.6,623.6 485.6,621.9 485.6,620.6 485.6,620.9 485.7,617.8 485.7,617.8 485.7,617.6 485.7,616.1 485.8,615.5 485.8,613.0 485.8,612.6 485.8,612.4 485.9,609.4 485.9,609.0 485.9,609.1 486.0,606.1 486.0,606.4 486.0,605.2 486.1,602.9 486.1,603.4 486.2,601.8 486.2,599.2 486.2,600.2 486.3,599.1 486.3,597.3 486.3,595.3 486.4,596.2 486.4,594.8 486.4,594.2 486.5,591.7 486.5,591.7 486.6,591.5 486.6,590.4 486.6,588.1 486.7,587.5 486.7,586.8 486.8,585.9 486.8,586.2 486.8,585.1 486.9,581.8 486.9,582.3 487.0,580.1 487.0,580.9 487.1,579.1 487.1,579.0 487.1,578.0 487.2,577.0 487.2,574.1 487.3,572.8 487.3,573.6 487.4,571.8 487.4,571.5 487.5,569.6 487.5,568.5 487.6,568.3 487.6,566.3 487.7,565.6 487.7,564.3 487.8,564.0 487.8,561.3 487.9,561.3 487.9,560.6 488.0,559.8 488.0,559.3 488.1,556.9 488.1,557.4 488.2,555.6 488.2,553.7 488.3,553.2 488.3,551.6 488.4,551.3 488.4,548.5 488.5,549.9 488.5,547.3 488.6,545.3 488.6,544.5 488.7,544.2 488.7,542.9 488.8,543.5 488.8,541.1 488.9,541.6 488.9,538.8 489.0,537.9 489.0,538.7 489.1,537.4 489.1,536.6 489.2,533.2 489.2,532.0 489.2,532.9 489.3,530.8 489.3,529.1 489.4,528.0 489.4,527.6 489.5,526.5 489.5,526.5 489.6,526.5 489.6,522.9 489.7,523.7 489.7,522.0 489.8,521.8 489.8,521.1 489.9,519.8 489.9,516.3 490.0,517.0 490.0,516.1 490.1,513.7 490.2,511.5 490.2,512.7 490.3,511.2 490.3,510.5 490.4,509.4 490.4,508.2 490.5,504.9 490.5,506.7 490.6,505.6 490.6,502.6 490.7,502.9 490.7,502.3 490.8,499.6 490.8,498.2 490.9,498.0 490.9,497.5 491.0,495.2 491.0,495.1 491.1,494.9 491.1,491.9 491.2,492.6 491.2,489.0 491.3,489.5 491.3,489.3 491.4,486.8 491.4,485.4 491.5,484.3 491.5,483.6 491.6,482.7 491.6,481.8 491.7,480.3 491.7,480.5 491.8,478.3 491.8,477.5 491.9,477.3 491.9,477.9 492.0,474.8 492.0,473.6 492.1,474.8 492.1,473.3 492.2,470.8 492.2,473.0 492.3,469.4 492.3,470.2 492.4,468.0 492.4,469.4 492.5,467.0 492.5,467.2 492.6,466.1 492.7,464.2 492.8,461.3 492.9,459.9 493.0,459.6 493.1,458.1 493.2,457.6 493.3,454.1 493.4,453.0 493.5,451.7 493.6,453.8 493.7,450.4 493.7,451.7 493.8,449.7 493.9,450.8 494.0,448.7 494.1,448.7 494.2,445.0 494.3,447.3 494.3,444.5 494.4,442.3 494.5,444.8 494.6,441.4 494.7,442.3 494.8,438.8 494.8,439.7 494.9,438.8 495.0,437.8 495.1,438.3 495.2,435.0 495.2,436.6 495.3,432.4 495.4,434.7 495.5,430.8 495.6,431.4 495.6,431.4 495.7,429.2 495.8,428.9 495.9,424.5 495.9,427.3 496.0,422.2 496.1,424.0 496.2,423.6 496.2,422.3 496.3,421.1 496.4,419.6 496.5,420.3 496.5,415.9 496.6,418.1 496.7,416.7 496.7,413.0 496.8,413.3 496.9,412.4 496.9,410.2 497.0,412.6 497.1,411.3 497.2,409.6 497.3,405.1 497.4,407.2 497.5,407.0 497.6,405.0 497.7,405.0 497.8,404.2 497.9,402.1 498.0,401.4 498.1,398.4 498.2,399.8 498.3,396.7 498.4,395.6 498.5,395.0 498.6,394.1 498.7,391.6 498.8,391.2 498.9,391.0 499.0,389.9 499.1,388.2 499.2,391.0 499.3,390.6 499.4,387.1 499.5,387.8 499.6,387.0 499.8,380.9 499.9,383.0 499.9,382.3 500.0,379.4 500.0,382.4 500.1,381.0 500.1,378.7 500.2,377.8 500.3,378.5 500.3,373.5 500.4,376.8 500.5,373.9 500.5,371.8 500.6,370.5 500.7,370.9 500.7,367.5 500.8,370.2 500.9,367.0 500.9,368.4 501.0,367.6 501.1,365.7 501.2,361.0 501.3,360.6 501.3,361.5 501.4,362.0 501.5,359.2 501.6,356.7 501.7,358.0 501.7,355.1 501.8,354.6 501.9,352.9 502.0,354.4 502.1,351.6 502.2,348.0 502.3,349.7 502.4,347.5 502.5,345.3 502.6,345.9 502.7,343.7 502.8,346.3 502.9,341.5 503.0,342.2 503.1,338.3 503.2,338.9 503.3,339.7 503.5,337.9 503.6,337.7 503.7,336.3 503.8,335.5 503.9,332.6 504.0,335.1 504.2,332.6 504.3,328.4 504.4,331.6 504.5,327.1 504.6,327.4 504.8,327.6 504.9,327.9 505.0,323.1 505.1,322.7 505.3,322.8 505.4,322.7 505.5,320.6 505.6,320.8 505.8,321.3 505.9,315.5 506.0,316.2 506.1,317.2 506.2,316.3 506.4,316.0 506.5,311.7 506.6,310.2 506.8,311.3 506.9,311.1 507.0,309.8 507.2,307.4 507.3,304.2 507.4,306.1 507.6,302.7 507.7,300.4 507.8,299.2 508.0,299.8 508.1,298.9 508.2,298.8 508.4,297.2 508.5,296.5 508.6,296.1 508.8,292.7 508.9,294.9 509.0,293.2 509.2,292.9 509.3,290.7 509.4,289.6 509.5,290.2 509.7,288.4 509.8,285.4 509.9,287.7 510.1,283.3 510.2,282.9 510.3,285.0 510.5,281.7 510.7,278.8 511.0,281.4 511.2,278.7 511.4,274.5 511.6,275.2 511.8,274.1 512.0,272.8 512.2,274.2 512.4,270.7 512.6,269.0 512.8,272.2 513.0,269.8 513.2,268.4 513.4,269.7 513.6,267.8 513.8,267.7 514.0,264.1 514.2,262.9 514.5,262.0 514.7,261.7 514.9,261.2 515.2,258.3 515.4,259.2 515.6,260.2 515.9,258.2 516.1,253.4 516.3,254.9 516.6,254.7 516.8,250.7 517.0,254.6 517.3,252.5 517.5,250.3 517.7,249.1 517.9,248.8 518.1,246.5 518.4,246.4 518.6,245.0 518.8,243.1 519.0,242.6 519.2,239.4 519.5,241.2 519.7,238.2 519.9,237.3 520.1,235.8 520.3,237.9 520.5,235.5 520.7,235.3 520.8,234.1 521.0,233.8 521.3,231.0 521.6,229.2 521.9,230.8 522.1,229.6 522.3,225.8 522.6,225.0 523.0,225.2 523.6,226.6 524.5,223.3 525.3,222.1 526.1,222.5 526.7,222.2 527.0,222.2 526.6,219.6 525.7,219.1 524.5,221.2 523.7,219.2 523.5,215.5 524.0,216.5 525.0,214.1 526.2,218.0 527.5,213.7 528.7,216.7 529.6,212.5 530.0,212.1 529.6,212.0 528.6,211.3 527.3,210.8 525.9,210.3 524.9,209.7 524.5,207.5 524.8,209.6 525.5,209.3 526.5,206.2 527.6,205.1 528.7,203.9 529.7,204.0 530.5,205.1 531.2,204.7 531.7,205.5 532.1,203.9 532.5,199.4 533.0,198.7 533.4,197.5 533.7,195.9 534.1,194.6 534.5,196.2 534.9,197.2 535.2,196.3 535.6,190.2 536.0,190.4 536.4,189.8 536.8,191.4 537.3,186.3 537.7,187.0 538.1,188.3 538.5,186.8 539.0,182.8 539.7,183.5 540.3,183.4 541.0,179.6 541.7,182.6 542.5,180.9 543.5,178.4 544.5,177.4 545.6,175.5 546.7,179.4 547.7,175.6 548.7,177.7 549.8,178.5 550.9,178.3 552.0,179.8 552.8,177.5 553.6,180.0 554.4,178.1 555.3,181.2 556.1,182.2 556.9,181.8 557.8,184.5 558.2,184.9 558.5,182.2 558.9,184.1 559.3,184.9 559.6,188.3 560.0,190.0 560.4,187.9 560.8,192.6 561.1,189.9 561.5,192.2 561.9,195.5 562.3,193.6 562.6,197.7 563.0,194.5 563.3,196.9 563.7,200.8 564.0,200.8 564.3,199.0 564.6,201.9 565.0,203.1 565.3,201.5 565.6,207.2 565.9,203.4 566.2,209.1 566.5,208.9 566.8,209.7 567.1,209.2 567.3,209.5 567.6,211.8 567.9,215.1 568.2,211.7 568.5,214.6 568.7,216.3 569.0,219.2 569.3,218.7 569.5,221.0 569.8,220.7 570.0,220.3 570.3,223.9 570.5,220.2 570.8,224.8 571.0,222.0 571.2,223.4 571.5,224.1 571.7,227.2 572.0,230.0 572.2,230.9 572.5,231.0 572.7,230.7 573.0,231.2 573.3,233.1 573.6,233.4 573.9,235.2 574.1,236.8 574.4,234.7 574.7,239.9 575.0,236.6 575.2,241.3 575.5,237.7 575.8,238.5 576.1,244.3 576.4,242.0 576.8,243.3 577.1,246.3 577.5,243.9 577.9,247.8 578.3,250.5 578.7,249.9 578.9,248.3 579.2,249.7 579.4,254.3 579.6,251.6 579.9,255.1 580.2,255.6 580.4,257.2 580.7,257.4 581.0,257.8 581.2,260.1 581.5,260.7 581.8,259.1 582.1,259.4 582.4,263.0 582.7,263.9 583.0,265.4 583.3,264.6 583.6,269.0 583.9,268.2 584.2,268.4 584.5,268.2 584.8,269.3 585.1,270.8 585.4,273.9 585.7,273.6 586.0,276.6 586.3,275.3 586.6,278.8 586.9,280.4 587.2,280.1 587.5,281.7 587.7,280.4 588.0,282.1 588.3,282.8 588.6,283.8 588.8,287.4 589.1,285.5 589.4,289.3 589.7,289.2 589.9,288.2 590.2,289.9 590.5,290.8 590.7,292.0 591.0,295.0 591.3,294.7 591.5,295.1 591.8,296.4 592.1,296.4 592.3,296.5 592.6,298.6 592.9,301.3 593.1,302.2 593.4,300.0 593.6,303.5 593.9,305.0 594.2,305.4 594.4,307.7 594.7,306.1 595.0,306.5 595.2,308.5 595.5,307.9 595.7,312.2 596.0,311.6 596.3,313.4 596.5,313.8 596.8,314.8 597.0,315.2 597.3,317.8 597.6,319.1 597.8,320.5 598.1,319.9 598.3,320.5 598.6,321.9 598.9,324.3 599.1,322.9 599.4,322.8 599.6,325.5 599.9,327.8 600.2,326.2 600.4,327.9 600.7,329.9 600.9,330.9 601.2,330.8 601.5,333.3 601.7,334.5 602.0,335.0 602.2,336.6 602.5,335.1 602.7,337.0 603.0,338.0 603.2,338.5 603.5,340.0 603.8,342.6 604.0,343.0 604.3,342.1 604.5,344.8 604.8,345.6 605.0,345.3 605.3,346.6 605.5,346.9 605.8,348.9 606.0,350.7 606.2,350.5 606.5,351.4 606.7,352.2 607.0,355.4 607.2,354.2 607.5,355.9 607.7,356.2 608.0,358.1 608.2,359.9 608.4,361.2 608.7,361.4 608.9,363.5 609.2,362.7 609.4,364.8 609.6,364.9 609.9,365.7 610.1,367.1 610.3,367.6 610.6,369.8 610.8,369.5 611.0,372.0 611.3,373.0 611.5,372.1 611.7,374.0 612.0,375.7 612.2,376.6 612.4,377.5 612.7,376.9 612.9,379.7 613.1,379.0 613.3,379.6 613.6,382.3 613.8,382.3 614.0,382.5 614.3,383.6 614.7,385.4 615.0,387.2 615.3,386.8 615.6,388.9 615.9,389.8 616.2,391.7 616.5,391.6 616.8,391.9 617.1,393.8 617.4,393.6 617.7,394.5 618.0,397.1 618.3,397.2 618.6,397.7 618.9,398.3 619.3,399.1 619.6,400.6 619.9,401.6 620.3,403.7 620.6,403.8 621.0,404.8 621.3,405.9 621.6,406.3 621.9,407.6 622.2,408.3 622.5,408.8 622.8,410.1 623.1,411.8 623.4,411.4 623.7,413.3 624.1,414.9 624.4,415.2 624.7,415.9 625.0,417.7 625.4,418.4 625.7,418.6 626.0,418.9 626.4,421.7 626.7,421.8 627.1,422.6 627.4,423.0 627.7,424.4 628.1,426.4 628.4,427.2 628.8,427.4 629.1,429.6 629.5,430.7 629.8,430.4 630.2,432.5 630.5,433.0 630.8,434.0 631.1,434.7 631.4,436.0 631.7,436.1 632.0,438.7 632.2,438.1 632.5,440.6 632.8,439.7 633.1,441.4 633.4,442.0 633.7,444.4 634.0,444.1 634.3,446.3 634.7,446.1 635.0,446.5 635.3,448.0 635.6,448.4 635.9,450.2 636.2,450.5 636.5,451.6 636.8,452.4 637.1,453.7 637.4,456.0 637.7,456.1 638.0,457.3 638.3,458.6 638.6,458.8 638.9,460.2 639.2,460.0 639.5,461.9 639.8,463.5 640.1,463.6 640.4,464.1 640.7,466.5 641.0,467.2 641.3,467.3 641.6,468.0 641.9,469.4 642.2,470.6 642.5,471.2 642.8,473.2 643.1,473.7 643.4,475.1 643.7,475.6 643.9,477.3 644.2,477.7 644.5,478.5 644.8,479.4 645.1,481.1 645.4,481.6 645.7,482.5 646.0,482.8 646.3,485.0 646.5,485.6 646.8,487.2 647.1,487.1 647.4,487.7 647.7,488.4 648.0,489.9 648.3,491.2 648.6,491.7 648.9,493.5 649.2,493.6 649.5,495.9 649.8,495.5 650.1,496.5 650.4,497.4 650.7,499.5 651.0,500.7 651.3,501.3 651.6,501.4 651.9,503.5 652.2,504.2 652.5,504.3 652.8,506.4 653.1,507.1 653.4,507.2 653.7,508.6 654.0,508.6 654.3,509.8 654.6,510.7 654.9,512.9 655.2,513.2 655.5,514.4 655.8,515.9 656.2,515.8 656.5,516.5 656.8,517.7 657.1,519.8 657.4,519.7 657.7,520.1 658.0,521.1 658.4,522.6 658.7,524.4 659.0,524.3 659.3,526.2 659.7,526.4 660.0,528.4 660.3,528.7 660.6,529.0 661.0,530.1 661.3,531.4 661.7,532.2 662.0,533.2 662.3,535.0 662.7,534.4 663.0,535.9 663.4,537.5 663.8,538.7 664.1,539.7 664.5,539.8 664.8,540.7 665.2,542.5 665.6,543.0 666.0,544.6 666.3,544.1 666.7,546.2 667.1,547.0 667.5,548.4 667.8,548.2 668.2,549.7 668.6,551.1 669.0,551.4 669.4,551.8 669.7,553.6 670.1,553.7 670.5,554.7 670.9,557.0 671.3,557.1 671.6,558.9 672.0,559.8 672.4,559.4 672.8,560.5 673.2,562.4 673.5,562.4 673.9,563.2 674.3,564.1 674.6,566.3 675.0,567.3 675.4,568.3 675.7,568.4 676.1,569.1 676.4,570.6 676.8,570.7 677.2,572.0 677.5,574.1 677.9,575.2 678.2,575.1 678.6,575.9 678.9,577.4 679.3,578.9 679.7,579.3 680.0,580.2 680.4,581.4 680.7,582.4 681.1,582.7 681.4,583.7 681.8,584.9 682.1,585.9 682.5,587.6 682.8,587.4 683.2,588.0 683.6,589.8 683.9,591.4 684.3,592.3 684.6,592.0 685.0,594.3 685.3,595.1 685.7,595.0 686.1,595.9 686.4,596.8 686.8,598.1 687.1,599.2 687.5,599.6 687.9,601.0 688.3,602.0 688.7,602.4 689.1,604.1 689.5,604.3 689.9,605.7 690.3,606.3 690.7,607.2 691.1,608.8 691.5,610.1 691.9,610.6 692.3,611.0 692.7,612.0 693.1,614.0 693.5,614.5 693.9,615.0 694.3,616.1 694.7,616.7 695.1,618.2 695.5,618.3 695.9,620.4 696.3,620.5 696.7,621.6 697.1,623.4 697.5,623.0 697.9,624.3 698.3,625.6 698.7,626.5 699.0,627.6 699.4,628.5 699.8,628.8 700.1,630.1 700.5,630.2 700.9,632.0 701.4,633.1 701.8,633.0 702.2,635.0 702.6,635.4 703.0,636.1 703.4,637.1 703.8,638.3 704.2,640.0 704.5,641.0 704.9,641.6 705.3,642.2 705.7,643.0 706.0,643.8 706.4,644.6 706.8,646.0 707.2,647.2 707.5,648.3 707.9,649.2 708.3,650.2 708.7,650.7 709.0,651.8 709.4,652.5 709.8,653.5 710.2,654.5 710.6,654.5 711.0,655.3 711.5,656.5 711.9,657.7 712.4,658.8 712.8,659.2 713.3,661.0 713.8,661.9 714.2,662.5 714.7,664.2 715.2,664.3 715.7,665.4 716.1,667.2 716.6,667.1 717.1,668.0 717.6,668.7 718.0,670.1 718.5,671.2 719.0,671.8 719.5,673.0 720.0,674.0 720.4,674.7 720.9,676.1 721.4,676.7 721.8,676.6 722.3,678.5 722.8,679.2 723.4,680.2 723.9,681.2 724.4,682.0 724.9,682.0 725.4,683.0 725.9,684.1 726.4,684.7 727.0,685.7 727.5,686.0 728.0,687.1 728.5,687.5 729.0,688.2 729.6,689.4 730.2,690.0 730.7,690.8 731.3,691.8 732.0,692.7 732.6,693.7 733.3,694.9 733.7,695.8 734.2,696.0 734.6,697.1 735.1,698.2 735.6,698.7 736.1,700.0 736.6,700.3 737.1,701.4 737.6,702.3 738.1,703.0 738.6,704.1 739.1,705.5 739.7,706.5 740.2,706.5 740.8,708.2 741.3,709.0 741.8,709.8 742.4,710.4 742.9,711.4 743.5,712.5 744.0,713.2 744.6,714.9 745.1,715.9 745.7,716.9 746.2,716.8 746.8,717.8 747.3,719.6 747.9,720.0 748.4,720.6 748.9,721.9 749.5,722.6 750.0,723.5 750.6,724.6 751.2,724.8 751.8,725.8 752.4,727.0 753.0,728.2 753.6,728.6 754.2,729.6 754.8,730.3 755.4,730.6 756.0,732.4 756.6,732.8 757.2,733.3 757.8,734.0 758.4,735.2 759.0,736.3 759.5,737.1 760.1,737.9 760.7,738.8 761.3,739.3 761.9,739.7 762.5,740.4 763.1,741.5 763.7,742.1 764.3,742.6 764.9,744.1 765.5,743.9 766.1,744.8 766.7,745.5 767.4,746.6 768.1,747.7 768.8,748.0 769.5,748.8 770.2,750.0 770.9,751.0 771.5,751.3 772.2,752.5 772.9,752.9 773.6,753.6 774.3,754.1 775.0,754.8 775.7,755.6 776.4,756.8 777.1,757.3 777.8,758.1 778.5,758.9 779.1,759.5 779.8,759.7 780.5,760.3 781.2,760.9 781.9,762.1 782.6,762.3 783.3,763.5 784.1,764.3 784.8,764.5 785.6,765.8 786.4,766.1 787.2,767.0 788.0,768.1 788.8,768.1 789.6,769.0 790.5,769.8 791.3,771.0 792.1,771.7 792.9,772.1 793.6,772.5 794.4,773.7 795.2,774.0 795.9,774.9 796.7,775.8 797.4,776.3 798.1,776.8 798.7,777.3 799.4,777.8 800.0,778.3 801.1,779.2 802.1,780.2 803.1,781.1 804.0,781.0 804.8,781.8 805.7,782.8 806.5,783.6 807.2,783.8 807.9,784.2 808.6,784.5 809.3,785.6 810.0,785.5 810.8,786.5 811.6,788.1 812.2,788.6 812.9,789.5 813.5,789.8 814.0,790.4 814.6,792.2 815.3,791.9 816.0,793.0 816.9,793.8 817.8,794.1 818.7,794.5 819.7,795.3 823.4,810.3 827.0,780.0 830.1,807.7 833.3,769.2 836.2,797.9 838.8,771.2 841.0,813.8 843.8,781.0 846.5,816.0 849.4,784.5 852.6,816.8 855.7,790.3 859.6,818.7 863.2,796.2 866.0,820.2 869.0,798.9 872.4,820.0 874.6,798.8 878.4,813.0 881.4,807.9 883.6,820.4 886.2,813.6 890.0,822.1 893.0,817.8 894.0,821.6 895.0,823.3 896.0,824.0 897.0,823.5 898.0,821.2 899.0,822.4 900.0,822.8 901.0,822.6 901.9,823.7 902.9,824.0 903.9,826.7 904.9,826.0 905.9,826.9 906.8,827.3 907.8,827.4 908.7,827.5 909.6,826.9 910.5,827.1 911.4,827.5 912.3,828.5 913.3,827.7 914.3,828.3 915.4,829.1 916.7,828.0 917.5,829.3 918.3,828.2 919.2,828.9 920.1,830.0 921.1,830.2 922.1,831.0 923.1,830.6 924.1,831.3 925.1,831.4 926.1,830.5 927.2,832.2 928.2,830.6 929.2,832.2 930.3,831.7 931.3,831.6 932.3,832.0 933.3,833.0 934.3,833.5 935.4,832.8 936.4,833.7 937.5,832.7 938.5,833.9 939.6,834.2 940.6,833.8 941.6,833.2 942.7,833.1 943.7,833.0 944.8,834.4 945.8,834.6 946.9,833.5 947.9,833.5 949.0,835.1 950.0,835.2 951.0,834.7 952.0,833.9 952.9,835.7 953.9,834.8 954.9,835.5 955.9,835.1 956.9,836.7 957.9,836.5 958.8,835.5 959.8,837.1 960.8,836.4 961.8,837.7 962.8,837.0 963.8,837.7 964.7,838.2 965.7,837.8 966.7,837.5 967.7,838.3 968.8,837.8 969.8,839.5 970.9,838.6 971.9,838.2 972.9,839.3 974.0,839.3 975.0,839.9 976.0,839.7 977.1,839.0 978.1,839.1 979.1,841.2 980.2,840.6 981.2,840.4 982.3,840.2 983.3,841.4 984.3,841.8 985.3,841.6 986.2,841.1 987.2,841.5 988.2,842.9 989.2,842.2 990.2,843.0 991.2,842.0 992.1,843.4 993.1,844.3 994.1,844.5 995.1,844.7 996.1,844.1 997.1,844.3 998.0,844.8 999.0,844.9 1000.0,845.6 1001.0,845.3 1002.0,846.6 1002.9,846.9 1003.9,846.1 1004.9,846.8 1005.9,847.4 1006.9,847.7 1007.9,846.9 1008.8,846.9 1009.8,846.4 1010.8,846.7 1011.8,847.8 1012.8,847.2 1013.8,848.1 1014.7,849.0 1015.7,848.1 1016.7,848.6 1017.7,849.6 1018.8,848.8 1019.9,849.6 1020.9,850.0 1022.0,848.8 1023.1,848.8 1024.2,850.0 1025.3,849.5 1026.3,849.1 1027.4,849.3 1028.4,850.1 1029.4,849.6 1030.4,850.3 1031.4,849.6 1032.4,849.6 1033.3,849.8 1034.5,850.9 1035.7,849.8 1036.8,849.8 1037.9,849.8 1039.0,851.0 1040.0,851.5 1041.0,850.4 1042.1,851.9 1043.1,851.4 1044.0,851.1 1045.0,851.2 1046.0,852.2 1047.0,851.9 1048.0,852.4 1048.9,851.5 1049.8,852.6 1050.7,853.3 1051.6,852.6 1052.5,852.9 1053.4,853.1 1054.4,853.3 1055.5,853.9 1056.7,854.0 1057.6,853.7 1058.5,854.8 1059.4,854.9 1060.4,855.5 1061.4,855.1 1062.5,856.6 1063.5,855.2 1064.6,856.1 1065.7,855.5 1066.8,856.5 1067.9,856.5 1069.0,856.9 1070.1,856.6 1071.2,857.2 1072.2,857.9 1073.3,857.4 1074.3,857.5 1075.4,857.4 1076.4,858.2 1077.5,858.0 1078.5,859.2 1079.6,859.0 1080.6,858.7 1081.6,859.7 1082.7,860.6 1083.7,859.8 1084.8,859.9 1085.8,860.4 1086.9,860.5 1087.9,861.5 1089.0,860.7 1090.0,859.9 1091.0,861.2 1092.1,861.3 1093.1,861.0 1094.2,861.6 1095.2,862.0 1096.3,861.4 1097.3,861.2 1098.4,860.8 1099.4,861.6 1100.4,862.2 1101.5,861.0 1102.5,862.9 1103.6,862.4 1104.6,861.8 1105.7,862.4 1106.7,862.9 1107.7,862.7 1108.8,862.5 1109.8,863.5 1110.9,863.4 1111.9,864.1 1112.9,863.0 1114.0,863.5 1115.0,862.7 1116.0,863.2 1117.1,864.3 1118.1,864.7 1119.1,864.7 1120.2,863.5 1121.2,863.8 1122.3,864.7 1123.3,865.3 1124.3,864.1 1125.4,864.1 1126.4,864.5 1127.5,864.8 1128.5,864.7 1129.6,864.6 1130.6,865.1 1131.6,866.5 1132.7,866.4 1133.7,866.7 1134.8,866.3 1135.8,866.4 1136.9,866.4 1137.9,866.3 1139.0,866.2 1140.0,866.0 1141.0,867.2 1142.1,867.1 1143.1,867.2 1144.2,868.5 1145.2,866.8 1146.3,867.1 1147.3,868.6 1148.4,868.1 1149.4,868.5 1150.4,868.7 1151.5,869.2 1152.5,869.5 1153.6,869.6 1154.6,869.5 1155.7,869.5 1156.7,868.9 1157.7,870.1 1158.7,870.0 1159.7,870.7 1160.7,869.7 1161.7,871.5 1162.8,871.8 1163.8,870.5 1164.8,872.3 1165.8,872.6 1166.8,871.1 1167.8,871.9 1168.8,872.6 1169.7,873.5 1170.7,873.7 1171.6,872.6 1172.5,874.1 1173.3,874.3 1174.6,873.1 1175.8,875.1 1177.0,874.2 1178.2,874.0 1179.3,875.4 1180.3,875.6 1181.4,876.3 1182.4,874.8 1183.3,874.9 1184.2,875.1 1185.0,876.3 1186.3,875.8 1187.4,875.6 1188.4,874.7 1189.2,874.2 1190.1,873.2 1191.0,872.0 1192.0,872.0 1193.0,870.8 1194.0,870.9 1194.9,868.9 1195.8,869.0 1196.7,868.9 1197.6,870.3 1198.5,869.3 1199.2,871.1 1200.1,872.9 1201.0,873.4 1201.6,874.1 1202.1,873.7 1202.7,875.0 1203.3,875.0 1203.9,876.6 1204.6,876.6 1205.2,878.0 1205.9,879.2 1206.7,880.5 1207.4,880.3 1208.2,882.0 1209.0,882.2 1209.8,883.2 1210.7,884.1 1211.6,885.4 1212.4,885.7 1213.3,886.7 1214.2,887.0 1215.0,887.6 1215.9,888.3 1216.9,887.6 1217.8,888.5 1218.8,889.2 1219.7,890.6 1220.7,890.9 1221.6,891.2 1222.4,891.0 1223.3,892.3 1224.2,892.7 1225.1,893.2 1225.9,893.1 1226.7,895.1 1227.6,894.2 1228.4,895.7 1229.2,896.7 1230.0,897.3 1230.9,897.5 1231.9,898.0 1232.8,898.9 1233.7,900.5 1234.7,901.4 1235.7,901.8 1236.7,901.0 1237.6,901.2 1238.6,900.4 1239.5,900.3 1240.5,899.6 1241.6,900.2 1242.6,899.2 1243.8,898.3 1245.0,898.3 1245.8,898.1 1246.7,896.9 1247.6,898.3 1248.5,896.2 1249.4,896.7 1250.3,897.0 1251.3,894.8 1252.3,894.6 1253.4,895.4 1254.4,895.1 1255.5,894.3 1256.7,894.3 1257.6,893.8 1258.5,893.9 1259.5,892.6 1260.5,893.6 1261.5,893.7 1262.6,892.2 1263.6,893.0 1264.7,891.7 1265.8,892.2 1266.9,893.2 1267.9,892.4 1269.0,891.5 1270.1,892.6 1271.2,892.2 1272.3,892.3 1273.3,892.2 1274.3,891.0 1275.4,891.0 1276.4,891.4 1277.5,890.4 1278.5,890.9 1279.6,891.6 1280.6,890.8 1281.6,890.8 1282.7,890.7 1283.7,891.7 1284.8,890.4 1285.8,891.7 1286.9,891.5 1287.9,890.2 1289.0,890.8 1290.0,890.7 1291.0,891.0 1292.1,891.1 1293.1,891.1 1294.2,889.8 1295.2,891.1 1296.3,890.2 1297.3,890.8 1298.4,889.9 1299.4,891.6 1300.4,889.8 1301.5,890.0 1302.5,890.0 1303.6,889.9 1304.6,889.8 1305.7,891.7 1306.7,890.7 1307.7,890.8 1308.8,891.7 1309.8,889.8 1310.9,891.1 1311.9,890.5 1312.9,891.1 1314.0,890.8 1315.0,891.4 1316.0,891.2 1317.1,891.6 1318.1,890.2 1319.1,891.6 1320.2,890.9 1321.2,889.8 1322.3,891.7 1323.3,890.5 1324.3,890.5 1325.4,890.8 1326.5,891.5 1327.5,891.1 1328.6,891.1 1329.7,892.1 1330.8,891.2 1331.9,891.2 1332.9,892.1 1334.0,892.5 1335.0,891.5 1336.1,892.9 1337.1,891.5 1338.1,893.1 1339.0,892.9 1340.0,892.9 1341.1,893.3 1342.2,893.3 1343.3,892.9 1344.3,893.4 1345.4,893.1 1346.4,893.9 1347.3,895.1 1348.3,894.2 1349.3,896.0 1350.3,895.6 1351.3,895.7 1352.3,896.5 1353.3,896.8 1354.1,898.1 1355.0,897.2 1355.9,899.2 1356.7,899.3 1357.6,900.1 1358.5,901.3 1359.4,900.4 1360.2,903.0 1361.1,902.1 1362.0,903.3 1362.8,903.7 1363.6,904.3 1364.4,904.7 1365.2,906.7 1366.0,906.7 1366.7,906.3 1367.8,907.5 1368.8,906.3 1369.7,906.5 1370.6,904.7 1371.4,904.6 1372.3,904.4 1373.1,903.1 1374.0,903.6 1375.0,902.3 1376.0,902.8 1376.9,901.0 1377.7,901.3 1378.6,901.3 1379.4,900.3 1380.3,899.8 1381.2,899.2 1382.1,898.8 1383.1,898.4 1384.3,899.1 1385.5,899.2 1386.8,897.7 1388.3,899.5 1389.1,898.5 1389.9,898.0 1390.7,898.6 1391.6,898.3 1392.5,900.1 1393.5,899.9 1394.5,899.1 1395.5,899.3 1396.5,899.7 1397.5,900.8 1398.6,901.1 1399.7,902.1 1400.8,902.3 1401.8,901.0 1402.9,902.3 1404.0,902.7 1405.1,902.6 1406.2,902.3 1407.3,903.1 1408.3,903.1 1409.3,904.9 1410.4,905.0 1411.4,904.4 1412.4,904.4 1413.3,905.8 1414.4,905.5 1415.4,906.3 1416.4,905.7 1417.5,905.6 1418.5,906.0 1419.5,905.4 1420.5,906.2 1421.5,906.0 1422.5,906.8 1423.5,907.7 1424.5,907.6 1425.4,907.7 1426.4,907.6 1427.4,908.8 1428.3,908.2 1429.3,908.7 1430.2,908.5 1431.2,909.3 1432.2,908.3 1433.1,908.8 1434.1,908.5 1435.0,909.2 1436.0,908.8 1437.0,908.2 1438.0,908.9 1439.0,909.0 1440.0,908.2 1441.0,907.6 1441.9,907.8 1442.9,908.8 1443.8,907.1 1444.8,907.3 1445.8,908.4 1446.7,906.8 1447.7,907.2 1448.7,906.5 1449.7,907.8 1450.7,906.4 1451.7,906.2 1452.8,907.4 1453.9,907.2 1455.0,906.7 1455.9,905.7 1456.9,906.3 1457.8,905.1 1458.8,905.9 1459.8,906.2 1460.8,906.3 1461.9,904.8 1462.9,904.6 1464.0,905.2 1465.0,905.3 1466.1,904.1 1467.2,904.5 1468.2,904.7 1469.3,905.6 1470.4,904.4 1471.4,903.8 1472.4,904.2 1473.5,903.6 1474.5,905.2 1475.5,903.2 1476.4,904.0 1477.4,903.9 1478.3,903.6 1479.1,902.7 1480.0,903.8 1481.2,903.1 1482.3,902.4 1483.4,902.6 1484.5,902.5 1485.5,901.8 1486.5,902.3 1487.5,900.2 1488.4,900.5 1489.3,900.1 1490.2,900.9 1491.1,899.3 1492.0,900.2 1493.0,898.4 1493.9,898.8 1494.8,897.7 1495.7,897.9 1496.7,898.6 1497.7,898.4 1498.8,897.5 1499.8,896.9 1500.9,896.4 1501.9,897.4 1502.9,896.6 1504.0,896.4 1505.0,895.3 1506.0,895.2 1507.1,896.0 1508.1,893.4 1509.1,894.2 1510.2,896.1 1511.2,893.3 1512.3,894.9 1513.3,895.8 1514.2,895.0 1515.1,898.6 1516.0,895.0 1519.8,900.7 1522.7,897.2 1525.4,905.9 1528.6,900.4 1532.6,908.5 1535.3,899.5 1538.0,908.2 1540.7,901.4 1544.0,919.0 1547.4,913.9 1550.0,928.4 1553.4,919.5 1556.5,936.2 1559.7,926.3 1562.3,940.5 1564.9,929.0 1568.5,943.6 1570.4,929.9 1573.3,941.8 1576.2,926.3 1579.0,937.0 1581.8,923.7 1584.5,932.9 1588.0,920.0 1590.7,929.4 1593.5,916.6 1596.7,927.8 1599.8,915.0 1602.9,926.4 1606.0,914.0 1609.9,924.0 1612.9,918.1 1615.7,919.1 1619.6,906.6 1622.6,917.5 1625.5,904.4 1628.5,913.1 1631.5,904.9 1635.5,922.1 1638.3,921.0 1641.6,923.5 1644.7,924.4 1647.6,924.4 1651.3,911.1 1654.1,928.9 1656.8,914.6 1660.4,927.2 1664.2,919.9 1668.1,923.6 1671.2,909.2 1674.2,926.4 1676.0,908.9 1678.9,927.0 1681.6,913.5 1685.0,933.7 1687.3,916.4 1690.1,937.7 1693.5,921.8 1696.8,939.7 1700.2,918.9 1704.1,939.9 1708.3,922.1 1710.6,943.3 1713.4,925.1 1716.4,945.0 1719.2,935.5 1722.0,950.5 1724.9,930.8 1727.8,948.1 1730.5,929.2 1733.1,955.1 1735.8,934.1 1739.4,959.7 1741.7,937.2 1744.5,963.1 1746.9,944.2 1750.0,965.2 1752.4,966.3 1756.2,962.2 1759.2,938.3 1762.2,961.8 1765.0,935.3 1767.8,960.8 1769.7,939.9 1772.5,963.7 1775.1,943.9 1777.5,967.2 1780.6,945.5 1783.4,968.2 1786.4,944.3 1790.0,970.5 1792.8,947.5 1795.7,974.3 1799.2,950.9 1802.3,979.9 1804.3,953.2 1807.2,979.6 1810.2,965.0 1813.2,983.5 1816.3,957.7 1818.3,984.1 1821.2,959.1 1823.2,984.3 1826.2,959.0 1828.3,984.9 1831.3,961.7 1834.5,982.6 1836.6,960.3 1840.0,982.2 1844.2,961.6 1847.5,979.2 1850.6,958.8 1854.6,969.3 1858.0,961.2 1860.9,981.4 1864.0,963.2 1867.3,982.0 1870.0,979.6 1873.9,984.0 1877.2,964.3 1880.5,988.0 1883.7,963.2 1886.8,986.7 1889.4,977.9 1891.8,983.3 1894.5,955.5 1897.5,988.5 1900.4,959.9 1904.1,992.5 1906.9,982.4 1909.4,986.8 1911.8,947.8 1914.4,974.2 1917.0,925.3 1920.2,980.0 1922.7,962.4 1925.3,1005.5 1928.4,967.4 1931.4,996.5 1934.1,966.8 1937.0,997.4 1939.4,959.4 1941.8,1005.1 1945.0,967.2 1948.1,1005.1 1950.4,960.6 1953.0,1001.2 1956.4,1002.4 1958.5,1002.7"/></g><text font-family="&quot;Liberation Sans&quot;, Arial, sans-serif" font-weight="bold" style="font-kerning:none" font-size="90" text-anchor="end" transform="translate(255.0,93.0) scale(1,1.040)">30</text><text font-family="&quot;Liberation Sans&quot;, Arial, sans-serif" font-weight="bold" style="font-kerning:none" font-size="90" text-anchor="end" transform="translate(255.0,503.8) scale(1,1.040)">20</text><text font-family="&quot;Liberation Sans&quot;, Arial, sans-serif" font-weight="bold" style="font-kerning:none" font-size="90" text-anchor="end" transform="translate(255.0,915.7) scale(1,1.040)">10</text><text font-family="&quot;Liberation Sans&quot;, Arial, sans-serif" font-weight="bold" style="font-kerning:none" font-size="90" text-anchor="end" transform="translate(255.0,1328.0) scale(1,1.040)">0</text><text font-family="&quot;Liberation Sans&quot;, Arial, sans-serif" font-weight="bold" style="font-kerning:none" font-size="90" text-anchor="middle" transform="translate(295.5,1411.6) scale(1,1.040)">0</text><text font-family="&quot;Liberation Sans&quot;, Arial, sans-serif" font-weight="bold" style="font-kerning:none" font-size="90" text-anchor="middle" transform="translate(627.8,1411.6) scale(1,1.040)">500</text><text font-family="&quot;Liberation Sans&quot;, Arial, sans-serif" font-weight="bold" style="font-kerning:none" font-size="90" text-anchor="middle" transform="translate(960.1,1411.6) scale(1,1.040)">1000</text><text font-family="&quot;Liberation Sans&quot;, Arial, sans-serif" font-weight="bold" style="font-kerning:none" font-size="90" text-anchor="middle" transform="translate(1292.4,1411.6) scale(1,1.040)">1500</text><text font-family="&quot;Liberation Sans&quot;, Arial, sans-serif" font-weight="bold" style="font-kerning:none" font-size="90" text-anchor="middle" transform="translate(1624.7,1411.6) scale(1,1.040)">2000</text><text font-family="&quot;Liberation Sans&quot;, Arial, sans-serif" font-weight="bold" style="font-kerning:none" font-size="90" text-anchor="middle" transform="translate(1957.0,1411.6) scale(1,1.040)">2500</text><text font-family="&quot;Liberation Sans&quot;, Arial, sans-serif" font-weight="bold" style="font-kerning:none" font-size="96" transform="translate(700.7,1539.8) scale(1,1.045)">Wavelength (nm)</text><text font-family="&quot;Liberation Sans&quot;, Arial, sans-serif" font-weight="bold" style="font-kerning:none" font-size="96" transform="translate(103.1,960) rotate(-90) scale(0.993,1.045) translate(-6.4,0)">Reflectance (%)</text></svg>
</body></html>
